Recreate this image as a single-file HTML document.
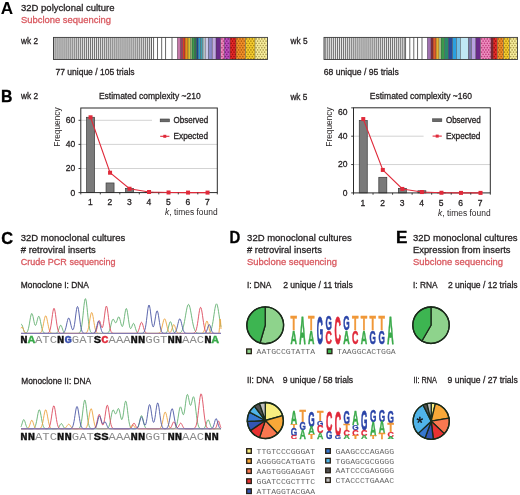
<!DOCTYPE html>
<html><head><meta charset="utf-8"><style>
html,body{margin:0;padding:0;background:#fff;}
body{width:520px;height:495px;overflow:hidden;font-family:"Liberation Sans",sans-serif;}
svg{display:block;will-change:transform;}
</style></head><body>
<svg width="520" height="495" viewBox="0 0 520 495">
<rect width="520" height="495" fill="#fff"/>
<text x="0.8" y="13.9" font-family="Liberation Sans" font-size="16.5" font-weight="700" fill="#000" textLength="12.4" lengthAdjust="spacingAndGlyphs">A</text>
<text x="21" y="11.3" font-family="Liberation Sans" font-size="9.9" font-weight="400" fill="#231f20" stroke="#231f20" stroke-width="0.3" text-anchor="start" textLength="93.5" lengthAdjust="spacingAndGlyphs" >32D polyclonal culture</text>
<text x="21" y="22.8" font-family="Liberation Sans" font-size="9.9" font-weight="400" fill="#d9585f" stroke="#d9585f" stroke-width="0.3" text-anchor="start" textLength="90" lengthAdjust="spacingAndGlyphs" >Subclone sequencing</text>
<text x="21" y="44" font-family="Liberation Sans" font-size="9.0" font-weight="400" fill="#231f20" stroke="#231f20" stroke-width="0.3" text-anchor="start" textLength="17" lengthAdjust="spacingAndGlyphs" >wk 2</text>
<text x="55.4" y="75.2" font-family="Liberation Sans" font-size="9.0" font-weight="400" fill="#231f20" stroke="#231f20" stroke-width="0.3" text-anchor="start" textLength="79.2" lengthAdjust="spacingAndGlyphs" >77 unique / 105 trials</text>
<text x="290.5" y="44" font-family="Liberation Sans" font-size="9.0" font-weight="400" fill="#231f20" stroke="#231f20" stroke-width="0.3" text-anchor="start" textLength="17" lengthAdjust="spacingAndGlyphs" >wk 5</text>
<text x="323.8" y="75.2" font-family="Liberation Sans" font-size="9.0" font-weight="400" fill="#231f20" stroke="#231f20" stroke-width="0.3" text-anchor="start" textLength="75" lengthAdjust="spacingAndGlyphs" >68 unique / 95 trials</text>
<rect x="53.5" y="37.4" width="98.0" height="22.1" fill="#e6e6e6"/>
<rect x="53.44" y="37.4" width="0.9" height="22.1" fill="#666"/>
<rect x="55.47" y="37.4" width="0.9" height="22.1" fill="#666"/>
<rect x="57.50" y="37.4" width="0.9" height="22.1" fill="#666"/>
<rect x="59.54" y="37.4" width="0.9" height="22.1" fill="#666"/>
<rect x="61.57" y="37.4" width="0.9" height="22.1" fill="#666"/>
<rect x="63.60" y="37.4" width="0.9" height="22.1" fill="#666"/>
<rect x="65.63" y="37.4" width="0.9" height="22.1" fill="#666"/>
<rect x="67.66" y="37.4" width="0.9" height="22.1" fill="#666"/>
<rect x="69.70" y="37.4" width="0.9" height="22.1" fill="#666"/>
<rect x="71.73" y="37.4" width="0.9" height="22.1" fill="#666"/>
<rect x="73.76" y="37.4" width="0.9" height="22.1" fill="#666"/>
<rect x="75.79" y="37.4" width="0.9" height="22.1" fill="#666"/>
<rect x="77.82" y="37.4" width="0.9" height="22.1" fill="#666"/>
<rect x="79.86" y="37.4" width="0.9" height="22.1" fill="#666"/>
<rect x="81.89" y="37.4" width="0.9" height="22.1" fill="#666"/>
<rect x="83.92" y="37.4" width="0.9" height="22.1" fill="#666"/>
<rect x="85.95" y="37.4" width="0.9" height="22.1" fill="#666"/>
<rect x="87.98" y="37.4" width="0.9" height="22.1" fill="#666"/>
<rect x="90.02" y="37.4" width="0.9" height="22.1" fill="#666"/>
<rect x="92.05" y="37.4" width="0.9" height="22.1" fill="#666"/>
<rect x="94.08" y="37.4" width="0.9" height="22.1" fill="#666"/>
<rect x="96.11" y="37.4" width="0.9" height="22.1" fill="#666"/>
<rect x="98.14" y="37.4" width="0.9" height="22.1" fill="#666"/>
<rect x="100.18" y="37.4" width="0.9" height="22.1" fill="#666"/>
<rect x="102.21" y="37.4" width="0.9" height="22.1" fill="#666"/>
<rect x="104.24" y="37.4" width="0.9" height="22.1" fill="#666"/>
<rect x="106.27" y="37.4" width="0.9" height="22.1" fill="#666"/>
<rect x="108.30" y="37.4" width="0.9" height="22.1" fill="#666"/>
<rect x="110.34" y="37.4" width="0.9" height="22.1" fill="#666"/>
<rect x="112.37" y="37.4" width="0.9" height="22.1" fill="#666"/>
<rect x="114.40" y="37.4" width="0.9" height="22.1" fill="#666"/>
<rect x="116.43" y="37.4" width="0.9" height="22.1" fill="#666"/>
<rect x="118.46" y="37.4" width="0.9" height="22.1" fill="#666"/>
<rect x="120.50" y="37.4" width="0.9" height="22.1" fill="#666"/>
<rect x="122.53" y="37.4" width="0.9" height="22.1" fill="#666"/>
<rect x="124.56" y="37.4" width="0.9" height="22.1" fill="#666"/>
<rect x="126.59" y="37.4" width="0.9" height="22.1" fill="#666"/>
<rect x="128.62" y="37.4" width="0.9" height="22.1" fill="#666"/>
<rect x="130.66" y="37.4" width="0.9" height="22.1" fill="#666"/>
<rect x="132.69" y="37.4" width="0.9" height="22.1" fill="#666"/>
<rect x="134.72" y="37.4" width="0.9" height="22.1" fill="#666"/>
<rect x="136.75" y="37.4" width="0.9" height="22.1" fill="#666"/>
<rect x="138.78" y="37.4" width="0.9" height="22.1" fill="#666"/>
<rect x="140.82" y="37.4" width="0.9" height="22.1" fill="#666"/>
<rect x="142.85" y="37.4" width="0.9" height="22.1" fill="#666"/>
<rect x="144.88" y="37.4" width="0.9" height="22.1" fill="#666"/>
<rect x="146.91" y="37.4" width="0.9" height="22.1" fill="#666"/>
<rect x="148.94" y="37.4" width="0.9" height="22.1" fill="#666"/>
<rect x="150.98" y="37.4" width="0.9" height="22.1" fill="#666"/>
<rect x="151.5" y="37.4" width="26.0" height="22.1" fill="#fff"/>
<rect x="151.05" y="37.4" width="0.9" height="22.1" fill="#5a5a5a"/>
<rect x="153.15" y="37.4" width="0.9" height="22.1" fill="#5a5a5a"/>
<rect x="157.05" y="37.4" width="0.9" height="22.1" fill="#5a5a5a"/>
<rect x="161.25" y="37.4" width="0.9" height="22.1" fill="#5a5a5a"/>
<rect x="165.15" y="37.4" width="0.9" height="22.1" fill="#5a5a5a"/>
<rect x="171.55" y="37.4" width="0.9" height="22.1" fill="#5a5a5a"/>
<rect x="177.05" y="37.4" width="0.9" height="22.1" fill="#5a5a5a"/>
<rect x="177.5" y="37.4" width="3.00" height="22.1" fill="#c678a8"/>
<rect x="180.5" y="37.4" width="2.00" height="22.1" fill="#9a3a6a"/>
<rect x="182.5" y="37.4" width="2.50" height="22.1" fill="#d83a2a"/>
<rect x="185" y="37.4" width="3.00" height="22.1" fill="#e8901a"/>
<rect x="188" y="37.4" width="2.50" height="22.1" fill="#d8c030"/>
<rect x="190.5" y="37.4" width="1.50" height="22.1" fill="#a8d080"/>
<rect x="192" y="37.4" width="2.30" height="22.1" fill="#3a9a4a"/>
<rect x="194.3" y="37.4" width="2.00" height="22.1" fill="#2a7a4a"/>
<rect x="196.3" y="37.4" width="1.90" height="22.1" fill="#1a4a8a"/>
<rect x="198.2" y="37.4" width="2.30" height="22.1" fill="#2a9ad0"/>
<rect x="200.5" y="37.4" width="2.00" height="22.1" fill="#3aa0b0"/>
<rect x="202.5" y="37.4" width="1.50" height="22.1" fill="#a0d8e8"/>
<rect x="204" y="37.4" width="1.20" height="22.1" fill="#f4f8fa"/>
<rect x="205.2" y="37.4" width="3.10" height="22.1" fill="#c8c8e8"/>
<rect x="208.3" y="37.4" width="3.90" height="22.1" fill="#8888c8"/>
<rect x="212.2" y="37.4" width="3.80" height="22.1" fill="#c0a8e0"/>
<rect x="216" y="37.4" width="4.70" height="22.1" fill="#6a2a8a"/>
<rect x="220.7" y="37.4" width="3.50" height="22.1" fill="#f090c0"/>
<circle cx="221.90" cy="38.90" r="0.85" fill="#c04080"/>
<circle cx="223.30" cy="41.10" r="0.85" fill="#c04080"/>
<circle cx="221.90" cy="43.30" r="0.85" fill="#c04080"/>
<circle cx="223.30" cy="45.50" r="0.85" fill="#c04080"/>
<circle cx="221.90" cy="47.70" r="0.85" fill="#c04080"/>
<circle cx="223.30" cy="49.90" r="0.85" fill="#c04080"/>
<circle cx="221.90" cy="52.10" r="0.85" fill="#c04080"/>
<circle cx="223.30" cy="54.30" r="0.85" fill="#c04080"/>
<circle cx="221.90" cy="56.50" r="0.85" fill="#c04080"/>
<circle cx="223.30" cy="58.70" r="0.85" fill="#c04080"/>
<rect x="224.2" y="37.4" width="5.80" height="22.1" fill="#c050c0"/>
<circle cx="225.40" cy="38.90" r="0.85" fill="#802080"/>
<circle cx="228.20" cy="38.90" r="0.85" fill="#802080"/>
<circle cx="226.80" cy="41.10" r="0.85" fill="#802080"/>
<circle cx="225.40" cy="43.30" r="0.85" fill="#802080"/>
<circle cx="228.20" cy="43.30" r="0.85" fill="#802080"/>
<circle cx="226.80" cy="45.50" r="0.85" fill="#802080"/>
<circle cx="225.40" cy="47.70" r="0.85" fill="#802080"/>
<circle cx="228.20" cy="47.70" r="0.85" fill="#802080"/>
<circle cx="226.80" cy="49.90" r="0.85" fill="#802080"/>
<circle cx="225.40" cy="52.10" r="0.85" fill="#802080"/>
<circle cx="228.20" cy="52.10" r="0.85" fill="#802080"/>
<circle cx="226.80" cy="54.30" r="0.85" fill="#802080"/>
<circle cx="225.40" cy="56.50" r="0.85" fill="#802080"/>
<circle cx="228.20" cy="56.50" r="0.85" fill="#802080"/>
<circle cx="226.80" cy="58.70" r="0.85" fill="#802080"/>
<rect x="230" y="37.4" width="6.00" height="22.1" fill="#e82a2a"/>
<circle cx="231.20" cy="38.90" r="0.85" fill="#a01010"/>
<circle cx="234.00" cy="38.90" r="0.85" fill="#a01010"/>
<circle cx="232.60" cy="41.10" r="0.85" fill="#a01010"/>
<circle cx="235.40" cy="41.10" r="0.85" fill="#a01010"/>
<circle cx="231.20" cy="43.30" r="0.85" fill="#a01010"/>
<circle cx="234.00" cy="43.30" r="0.85" fill="#a01010"/>
<circle cx="232.60" cy="45.50" r="0.85" fill="#a01010"/>
<circle cx="235.40" cy="45.50" r="0.85" fill="#a01010"/>
<circle cx="231.20" cy="47.70" r="0.85" fill="#a01010"/>
<circle cx="234.00" cy="47.70" r="0.85" fill="#a01010"/>
<circle cx="232.60" cy="49.90" r="0.85" fill="#a01010"/>
<circle cx="235.40" cy="49.90" r="0.85" fill="#a01010"/>
<circle cx="231.20" cy="52.10" r="0.85" fill="#a01010"/>
<circle cx="234.00" cy="52.10" r="0.85" fill="#a01010"/>
<circle cx="232.60" cy="54.30" r="0.85" fill="#a01010"/>
<circle cx="235.40" cy="54.30" r="0.85" fill="#a01010"/>
<circle cx="231.20" cy="56.50" r="0.85" fill="#a01010"/>
<circle cx="234.00" cy="56.50" r="0.85" fill="#a01010"/>
<circle cx="232.60" cy="58.70" r="0.85" fill="#a01010"/>
<circle cx="235.40" cy="58.70" r="0.85" fill="#a01010"/>
<rect x="236" y="37.4" width="9.50" height="22.1" fill="#f4902a"/>
<circle cx="237.20" cy="38.90" r="0.85" fill="#b06010"/>
<circle cx="240.00" cy="38.90" r="0.85" fill="#b06010"/>
<circle cx="242.80" cy="38.90" r="0.85" fill="#b06010"/>
<circle cx="238.60" cy="41.10" r="0.85" fill="#b06010"/>
<circle cx="241.40" cy="41.10" r="0.85" fill="#b06010"/>
<circle cx="244.20" cy="41.10" r="0.85" fill="#b06010"/>
<circle cx="237.20" cy="43.30" r="0.85" fill="#b06010"/>
<circle cx="240.00" cy="43.30" r="0.85" fill="#b06010"/>
<circle cx="242.80" cy="43.30" r="0.85" fill="#b06010"/>
<circle cx="238.60" cy="45.50" r="0.85" fill="#b06010"/>
<circle cx="241.40" cy="45.50" r="0.85" fill="#b06010"/>
<circle cx="244.20" cy="45.50" r="0.85" fill="#b06010"/>
<circle cx="237.20" cy="47.70" r="0.85" fill="#b06010"/>
<circle cx="240.00" cy="47.70" r="0.85" fill="#b06010"/>
<circle cx="242.80" cy="47.70" r="0.85" fill="#b06010"/>
<circle cx="238.60" cy="49.90" r="0.85" fill="#b06010"/>
<circle cx="241.40" cy="49.90" r="0.85" fill="#b06010"/>
<circle cx="244.20" cy="49.90" r="0.85" fill="#b06010"/>
<circle cx="237.20" cy="52.10" r="0.85" fill="#b06010"/>
<circle cx="240.00" cy="52.10" r="0.85" fill="#b06010"/>
<circle cx="242.80" cy="52.10" r="0.85" fill="#b06010"/>
<circle cx="238.60" cy="54.30" r="0.85" fill="#b06010"/>
<circle cx="241.40" cy="54.30" r="0.85" fill="#b06010"/>
<circle cx="244.20" cy="54.30" r="0.85" fill="#b06010"/>
<circle cx="237.20" cy="56.50" r="0.85" fill="#b06010"/>
<circle cx="240.00" cy="56.50" r="0.85" fill="#b06010"/>
<circle cx="242.80" cy="56.50" r="0.85" fill="#b06010"/>
<circle cx="238.60" cy="58.70" r="0.85" fill="#b06010"/>
<circle cx="241.40" cy="58.70" r="0.85" fill="#b06010"/>
<circle cx="244.20" cy="58.70" r="0.85" fill="#b06010"/>
<rect x="245.5" y="37.4" width="9.50" height="22.1" fill="#f8d030"/>
<circle cx="246.70" cy="38.90" r="0.85" fill="#b08810"/>
<circle cx="249.50" cy="38.90" r="0.85" fill="#b08810"/>
<circle cx="252.30" cy="38.90" r="0.85" fill="#b08810"/>
<circle cx="248.10" cy="41.10" r="0.85" fill="#b08810"/>
<circle cx="250.90" cy="41.10" r="0.85" fill="#b08810"/>
<circle cx="253.70" cy="41.10" r="0.85" fill="#b08810"/>
<circle cx="246.70" cy="43.30" r="0.85" fill="#b08810"/>
<circle cx="249.50" cy="43.30" r="0.85" fill="#b08810"/>
<circle cx="252.30" cy="43.30" r="0.85" fill="#b08810"/>
<circle cx="248.10" cy="45.50" r="0.85" fill="#b08810"/>
<circle cx="250.90" cy="45.50" r="0.85" fill="#b08810"/>
<circle cx="253.70" cy="45.50" r="0.85" fill="#b08810"/>
<circle cx="246.70" cy="47.70" r="0.85" fill="#b08810"/>
<circle cx="249.50" cy="47.70" r="0.85" fill="#b08810"/>
<circle cx="252.30" cy="47.70" r="0.85" fill="#b08810"/>
<circle cx="248.10" cy="49.90" r="0.85" fill="#b08810"/>
<circle cx="250.90" cy="49.90" r="0.85" fill="#b08810"/>
<circle cx="253.70" cy="49.90" r="0.85" fill="#b08810"/>
<circle cx="246.70" cy="52.10" r="0.85" fill="#b08810"/>
<circle cx="249.50" cy="52.10" r="0.85" fill="#b08810"/>
<circle cx="252.30" cy="52.10" r="0.85" fill="#b08810"/>
<circle cx="248.10" cy="54.30" r="0.85" fill="#b08810"/>
<circle cx="250.90" cy="54.30" r="0.85" fill="#b08810"/>
<circle cx="253.70" cy="54.30" r="0.85" fill="#b08810"/>
<circle cx="246.70" cy="56.50" r="0.85" fill="#b08810"/>
<circle cx="249.50" cy="56.50" r="0.85" fill="#b08810"/>
<circle cx="252.30" cy="56.50" r="0.85" fill="#b08810"/>
<circle cx="248.10" cy="58.70" r="0.85" fill="#b08810"/>
<circle cx="250.90" cy="58.70" r="0.85" fill="#b08810"/>
<circle cx="253.70" cy="58.70" r="0.85" fill="#b08810"/>
<rect x="255" y="37.4" width="12.50" height="22.1" fill="#faf0a0"/>
<circle cx="256.20" cy="38.90" r="0.85" fill="#b0a050"/>
<circle cx="259.00" cy="38.90" r="0.85" fill="#b0a050"/>
<circle cx="261.80" cy="38.90" r="0.85" fill="#b0a050"/>
<circle cx="264.60" cy="38.90" r="0.85" fill="#b0a050"/>
<circle cx="257.60" cy="41.10" r="0.85" fill="#b0a050"/>
<circle cx="260.40" cy="41.10" r="0.85" fill="#b0a050"/>
<circle cx="263.20" cy="41.10" r="0.85" fill="#b0a050"/>
<circle cx="266.00" cy="41.10" r="0.85" fill="#b0a050"/>
<circle cx="256.20" cy="43.30" r="0.85" fill="#b0a050"/>
<circle cx="259.00" cy="43.30" r="0.85" fill="#b0a050"/>
<circle cx="261.80" cy="43.30" r="0.85" fill="#b0a050"/>
<circle cx="264.60" cy="43.30" r="0.85" fill="#b0a050"/>
<circle cx="257.60" cy="45.50" r="0.85" fill="#b0a050"/>
<circle cx="260.40" cy="45.50" r="0.85" fill="#b0a050"/>
<circle cx="263.20" cy="45.50" r="0.85" fill="#b0a050"/>
<circle cx="266.00" cy="45.50" r="0.85" fill="#b0a050"/>
<circle cx="256.20" cy="47.70" r="0.85" fill="#b0a050"/>
<circle cx="259.00" cy="47.70" r="0.85" fill="#b0a050"/>
<circle cx="261.80" cy="47.70" r="0.85" fill="#b0a050"/>
<circle cx="264.60" cy="47.70" r="0.85" fill="#b0a050"/>
<circle cx="257.60" cy="49.90" r="0.85" fill="#b0a050"/>
<circle cx="260.40" cy="49.90" r="0.85" fill="#b0a050"/>
<circle cx="263.20" cy="49.90" r="0.85" fill="#b0a050"/>
<circle cx="266.00" cy="49.90" r="0.85" fill="#b0a050"/>
<circle cx="256.20" cy="52.10" r="0.85" fill="#b0a050"/>
<circle cx="259.00" cy="52.10" r="0.85" fill="#b0a050"/>
<circle cx="261.80" cy="52.10" r="0.85" fill="#b0a050"/>
<circle cx="264.60" cy="52.10" r="0.85" fill="#b0a050"/>
<circle cx="257.60" cy="54.30" r="0.85" fill="#b0a050"/>
<circle cx="260.40" cy="54.30" r="0.85" fill="#b0a050"/>
<circle cx="263.20" cy="54.30" r="0.85" fill="#b0a050"/>
<circle cx="266.00" cy="54.30" r="0.85" fill="#b0a050"/>
<circle cx="256.20" cy="56.50" r="0.85" fill="#b0a050"/>
<circle cx="259.00" cy="56.50" r="0.85" fill="#b0a050"/>
<circle cx="261.80" cy="56.50" r="0.85" fill="#b0a050"/>
<circle cx="264.60" cy="56.50" r="0.85" fill="#b0a050"/>
<circle cx="257.60" cy="58.70" r="0.85" fill="#b0a050"/>
<circle cx="260.40" cy="58.70" r="0.85" fill="#b0a050"/>
<circle cx="263.20" cy="58.70" r="0.85" fill="#b0a050"/>
<circle cx="266.00" cy="58.70" r="0.85" fill="#b0a050"/>
<rect x="180.20" y="37.4" width="0.6" height="22.1" fill="#3a3a3a" opacity="0.8"/>
<rect x="182.20" y="37.4" width="0.6" height="22.1" fill="#3a3a3a" opacity="0.8"/>
<rect x="184.70" y="37.4" width="0.6" height="22.1" fill="#3a3a3a" opacity="0.8"/>
<rect x="187.70" y="37.4" width="0.6" height="22.1" fill="#3a3a3a" opacity="0.8"/>
<rect x="190.20" y="37.4" width="0.6" height="22.1" fill="#3a3a3a" opacity="0.8"/>
<rect x="191.70" y="37.4" width="0.6" height="22.1" fill="#3a3a3a" opacity="0.8"/>
<rect x="194.00" y="37.4" width="0.6" height="22.1" fill="#3a3a3a" opacity="0.8"/>
<rect x="196.00" y="37.4" width="0.6" height="22.1" fill="#3a3a3a" opacity="0.8"/>
<rect x="197.90" y="37.4" width="0.6" height="22.1" fill="#3a3a3a" opacity="0.8"/>
<rect x="200.20" y="37.4" width="0.6" height="22.1" fill="#3a3a3a" opacity="0.8"/>
<rect x="202.20" y="37.4" width="0.6" height="22.1" fill="#3a3a3a" opacity="0.8"/>
<rect x="203.70" y="37.4" width="0.6" height="22.1" fill="#3a3a3a" opacity="0.8"/>
<rect x="204.90" y="37.4" width="0.6" height="22.1" fill="#3a3a3a" opacity="0.8"/>
<rect x="208.00" y="37.4" width="0.6" height="22.1" fill="#3a3a3a" opacity="0.8"/>
<rect x="211.90" y="37.4" width="0.6" height="22.1" fill="#3a3a3a" opacity="0.8"/>
<rect x="215.70" y="37.4" width="0.6" height="22.1" fill="#3a3a3a" opacity="0.8"/>
<rect x="220.40" y="37.4" width="0.6" height="22.1" fill="#3a3a3a" opacity="0.8"/>
<rect x="223.90" y="37.4" width="0.6" height="22.1" fill="#3a3a3a" opacity="0.8"/>
<rect x="229.70" y="37.4" width="0.6" height="22.1" fill="#3a3a3a" opacity="0.8"/>
<rect x="235.70" y="37.4" width="0.6" height="22.1" fill="#3a3a3a" opacity="0.8"/>
<rect x="245.20" y="37.4" width="0.6" height="22.1" fill="#3a3a3a" opacity="0.8"/>
<rect x="254.70" y="37.4" width="0.6" height="22.1" fill="#3a3a3a" opacity="0.8"/>
<rect x="53.5" y="37.4" width="214.0" height="22.1" fill="none" stroke="#3a3a3a" stroke-width="0.9"/>
<rect x="324" y="37.4" width="81.60000000000002" height="22.1" fill="#e6e6e6"/>
<rect x="324.76" y="37.4" width="0.9" height="22.1" fill="#666"/>
<rect x="326.80" y="37.4" width="0.9" height="22.1" fill="#666"/>
<rect x="328.84" y="37.4" width="0.9" height="22.1" fill="#666"/>
<rect x="330.88" y="37.4" width="0.9" height="22.1" fill="#666"/>
<rect x="332.92" y="37.4" width="0.9" height="22.1" fill="#666"/>
<rect x="334.96" y="37.4" width="0.9" height="22.1" fill="#666"/>
<rect x="337.01" y="37.4" width="0.9" height="22.1" fill="#666"/>
<rect x="339.05" y="37.4" width="0.9" height="22.1" fill="#666"/>
<rect x="341.09" y="37.4" width="0.9" height="22.1" fill="#666"/>
<rect x="343.13" y="37.4" width="0.9" height="22.1" fill="#666"/>
<rect x="345.17" y="37.4" width="0.9" height="22.1" fill="#666"/>
<rect x="347.21" y="37.4" width="0.9" height="22.1" fill="#666"/>
<rect x="349.25" y="37.4" width="0.9" height="22.1" fill="#666"/>
<rect x="351.29" y="37.4" width="0.9" height="22.1" fill="#666"/>
<rect x="353.33" y="37.4" width="0.9" height="22.1" fill="#666"/>
<rect x="355.37" y="37.4" width="0.9" height="22.1" fill="#666"/>
<rect x="357.42" y="37.4" width="0.9" height="22.1" fill="#666"/>
<rect x="359.46" y="37.4" width="0.9" height="22.1" fill="#666"/>
<rect x="361.50" y="37.4" width="0.9" height="22.1" fill="#666"/>
<rect x="363.54" y="37.4" width="0.9" height="22.1" fill="#666"/>
<rect x="365.58" y="37.4" width="0.9" height="22.1" fill="#666"/>
<rect x="367.62" y="37.4" width="0.9" height="22.1" fill="#666"/>
<rect x="369.66" y="37.4" width="0.9" height="22.1" fill="#666"/>
<rect x="371.70" y="37.4" width="0.9" height="22.1" fill="#666"/>
<rect x="373.74" y="37.4" width="0.9" height="22.1" fill="#666"/>
<rect x="375.78" y="37.4" width="0.9" height="22.1" fill="#666"/>
<rect x="377.83" y="37.4" width="0.9" height="22.1" fill="#666"/>
<rect x="379.87" y="37.4" width="0.9" height="22.1" fill="#666"/>
<rect x="381.91" y="37.4" width="0.9" height="22.1" fill="#666"/>
<rect x="383.95" y="37.4" width="0.9" height="22.1" fill="#666"/>
<rect x="385.99" y="37.4" width="0.9" height="22.1" fill="#666"/>
<rect x="388.03" y="37.4" width="0.9" height="22.1" fill="#666"/>
<rect x="390.07" y="37.4" width="0.9" height="22.1" fill="#666"/>
<rect x="392.11" y="37.4" width="0.9" height="22.1" fill="#666"/>
<rect x="394.15" y="37.4" width="0.9" height="22.1" fill="#666"/>
<rect x="396.19" y="37.4" width="0.9" height="22.1" fill="#666"/>
<rect x="398.24" y="37.4" width="0.9" height="22.1" fill="#666"/>
<rect x="400.28" y="37.4" width="0.9" height="22.1" fill="#666"/>
<rect x="402.32" y="37.4" width="0.9" height="22.1" fill="#666"/>
<rect x="404.36" y="37.4" width="0.9" height="22.1" fill="#666"/>
<rect x="405.6" y="37.4" width="21.899999999999977" height="22.1" fill="#fff"/>
<rect x="405.15" y="37.4" width="0.9" height="22.1" fill="#5a5a5a"/>
<rect x="409.35" y="37.4" width="0.9" height="22.1" fill="#5a5a5a"/>
<rect x="413.35" y="37.4" width="0.9" height="22.1" fill="#5a5a5a"/>
<rect x="417.15" y="37.4" width="0.9" height="22.1" fill="#5a5a5a"/>
<rect x="421.55" y="37.4" width="0.9" height="22.1" fill="#5a5a5a"/>
<rect x="427.05" y="37.4" width="0.9" height="22.1" fill="#5a5a5a"/>
<rect x="427.5" y="37.4" width="3.50" height="22.1" fill="#a070b0"/>
<rect x="431" y="37.4" width="2.00" height="22.1" fill="#902a3a"/>
<rect x="433" y="37.4" width="3.00" height="22.1" fill="#e05a2a"/>
<rect x="436" y="37.4" width="3.00" height="22.1" fill="#e8b030"/>
<rect x="439" y="37.4" width="2.00" height="22.1" fill="#c8e0a0"/>
<rect x="441" y="37.4" width="3.50" height="22.1" fill="#3a9a4a"/>
<rect x="444.5" y="37.4" width="3.80" height="22.1" fill="#2a8a6a"/>
<rect x="448.3" y="37.4" width="4.20" height="22.1" fill="#2a4a9a"/>
<rect x="452.5" y="37.4" width="4.10" height="22.1" fill="#2aa0e0"/>
<rect x="456.6" y="37.4" width="3.90" height="22.1" fill="#70c0e8"/>
<rect x="460.5" y="37.4" width="7.80" height="22.1" fill="#c0e8f4"/>
<rect x="468.3" y="37.4" width="3.20" height="22.1" fill="#7878a8"/>
<rect x="471.5" y="37.4" width="4.30" height="22.1" fill="#b8a0e0"/>
<rect x="475.8" y="37.4" width="4.70" height="22.1" fill="#6a2a8a"/>
<rect x="480.5" y="37.4" width="10.50" height="22.1" fill="#f090c0"/>
<circle cx="481.70" cy="38.90" r="0.85" fill="#c04080"/>
<circle cx="484.50" cy="38.90" r="0.85" fill="#c04080"/>
<circle cx="487.30" cy="38.90" r="0.85" fill="#c04080"/>
<circle cx="490.10" cy="38.90" r="0.85" fill="#c04080"/>
<circle cx="483.10" cy="41.10" r="0.85" fill="#c04080"/>
<circle cx="485.90" cy="41.10" r="0.85" fill="#c04080"/>
<circle cx="488.70" cy="41.10" r="0.85" fill="#c04080"/>
<circle cx="481.70" cy="43.30" r="0.85" fill="#c04080"/>
<circle cx="484.50" cy="43.30" r="0.85" fill="#c04080"/>
<circle cx="487.30" cy="43.30" r="0.85" fill="#c04080"/>
<circle cx="490.10" cy="43.30" r="0.85" fill="#c04080"/>
<circle cx="483.10" cy="45.50" r="0.85" fill="#c04080"/>
<circle cx="485.90" cy="45.50" r="0.85" fill="#c04080"/>
<circle cx="488.70" cy="45.50" r="0.85" fill="#c04080"/>
<circle cx="481.70" cy="47.70" r="0.85" fill="#c04080"/>
<circle cx="484.50" cy="47.70" r="0.85" fill="#c04080"/>
<circle cx="487.30" cy="47.70" r="0.85" fill="#c04080"/>
<circle cx="490.10" cy="47.70" r="0.85" fill="#c04080"/>
<circle cx="483.10" cy="49.90" r="0.85" fill="#c04080"/>
<circle cx="485.90" cy="49.90" r="0.85" fill="#c04080"/>
<circle cx="488.70" cy="49.90" r="0.85" fill="#c04080"/>
<circle cx="481.70" cy="52.10" r="0.85" fill="#c04080"/>
<circle cx="484.50" cy="52.10" r="0.85" fill="#c04080"/>
<circle cx="487.30" cy="52.10" r="0.85" fill="#c04080"/>
<circle cx="490.10" cy="52.10" r="0.85" fill="#c04080"/>
<circle cx="483.10" cy="54.30" r="0.85" fill="#c04080"/>
<circle cx="485.90" cy="54.30" r="0.85" fill="#c04080"/>
<circle cx="488.70" cy="54.30" r="0.85" fill="#c04080"/>
<circle cx="481.70" cy="56.50" r="0.85" fill="#c04080"/>
<circle cx="484.50" cy="56.50" r="0.85" fill="#c04080"/>
<circle cx="487.30" cy="56.50" r="0.85" fill="#c04080"/>
<circle cx="490.10" cy="56.50" r="0.85" fill="#c04080"/>
<circle cx="483.10" cy="58.70" r="0.85" fill="#c04080"/>
<circle cx="485.90" cy="58.70" r="0.85" fill="#c04080"/>
<circle cx="488.70" cy="58.70" r="0.85" fill="#c04080"/>
<rect x="491" y="37.4" width="2.00" height="22.1" fill="#8a2030"/>
<rect x="493" y="37.4" width="4.20" height="22.1" fill="#e82a2a"/>
<circle cx="494.20" cy="38.90" r="0.85" fill="#a01010"/>
<circle cx="495.60" cy="41.10" r="0.85" fill="#a01010"/>
<circle cx="494.20" cy="43.30" r="0.85" fill="#a01010"/>
<circle cx="495.60" cy="45.50" r="0.85" fill="#a01010"/>
<circle cx="494.20" cy="47.70" r="0.85" fill="#a01010"/>
<circle cx="495.60" cy="49.90" r="0.85" fill="#a01010"/>
<circle cx="494.20" cy="52.10" r="0.85" fill="#a01010"/>
<circle cx="495.60" cy="54.30" r="0.85" fill="#a01010"/>
<circle cx="494.20" cy="56.50" r="0.85" fill="#a01010"/>
<circle cx="495.60" cy="58.70" r="0.85" fill="#a01010"/>
<rect x="497.2" y="37.4" width="6.20" height="22.1" fill="#f4902a"/>
<circle cx="498.40" cy="38.90" r="0.85" fill="#b06010"/>
<circle cx="501.20" cy="38.90" r="0.85" fill="#b06010"/>
<circle cx="499.80" cy="41.10" r="0.85" fill="#b06010"/>
<circle cx="502.60" cy="41.10" r="0.85" fill="#b06010"/>
<circle cx="498.40" cy="43.30" r="0.85" fill="#b06010"/>
<circle cx="501.20" cy="43.30" r="0.85" fill="#b06010"/>
<circle cx="499.80" cy="45.50" r="0.85" fill="#b06010"/>
<circle cx="502.60" cy="45.50" r="0.85" fill="#b06010"/>
<circle cx="498.40" cy="47.70" r="0.85" fill="#b06010"/>
<circle cx="501.20" cy="47.70" r="0.85" fill="#b06010"/>
<circle cx="499.80" cy="49.90" r="0.85" fill="#b06010"/>
<circle cx="502.60" cy="49.90" r="0.85" fill="#b06010"/>
<circle cx="498.40" cy="52.10" r="0.85" fill="#b06010"/>
<circle cx="501.20" cy="52.10" r="0.85" fill="#b06010"/>
<circle cx="499.80" cy="54.30" r="0.85" fill="#b06010"/>
<circle cx="502.60" cy="54.30" r="0.85" fill="#b06010"/>
<circle cx="498.40" cy="56.50" r="0.85" fill="#b06010"/>
<circle cx="501.20" cy="56.50" r="0.85" fill="#b06010"/>
<circle cx="499.80" cy="58.70" r="0.85" fill="#b06010"/>
<circle cx="502.60" cy="58.70" r="0.85" fill="#b06010"/>
<rect x="503.4" y="37.4" width="6.10" height="22.1" fill="#f8d030"/>
<circle cx="504.60" cy="38.90" r="0.85" fill="#b08810"/>
<circle cx="507.40" cy="38.90" r="0.85" fill="#b08810"/>
<circle cx="506.00" cy="41.10" r="0.85" fill="#b08810"/>
<circle cx="508.80" cy="41.10" r="0.85" fill="#b08810"/>
<circle cx="504.60" cy="43.30" r="0.85" fill="#b08810"/>
<circle cx="507.40" cy="43.30" r="0.85" fill="#b08810"/>
<circle cx="506.00" cy="45.50" r="0.85" fill="#b08810"/>
<circle cx="508.80" cy="45.50" r="0.85" fill="#b08810"/>
<circle cx="504.60" cy="47.70" r="0.85" fill="#b08810"/>
<circle cx="507.40" cy="47.70" r="0.85" fill="#b08810"/>
<circle cx="506.00" cy="49.90" r="0.85" fill="#b08810"/>
<circle cx="508.80" cy="49.90" r="0.85" fill="#b08810"/>
<circle cx="504.60" cy="52.10" r="0.85" fill="#b08810"/>
<circle cx="507.40" cy="52.10" r="0.85" fill="#b08810"/>
<circle cx="506.00" cy="54.30" r="0.85" fill="#b08810"/>
<circle cx="508.80" cy="54.30" r="0.85" fill="#b08810"/>
<circle cx="504.60" cy="56.50" r="0.85" fill="#b08810"/>
<circle cx="507.40" cy="56.50" r="0.85" fill="#b08810"/>
<circle cx="506.00" cy="58.70" r="0.85" fill="#b08810"/>
<circle cx="508.80" cy="58.70" r="0.85" fill="#b08810"/>
<rect x="509.5" y="37.4" width="8.00" height="22.1" fill="#faf0a0"/>
<circle cx="510.70" cy="38.90" r="0.85" fill="#b0a050"/>
<circle cx="513.50" cy="38.90" r="0.85" fill="#b0a050"/>
<circle cx="516.30" cy="38.90" r="0.85" fill="#b0a050"/>
<circle cx="512.10" cy="41.10" r="0.85" fill="#b0a050"/>
<circle cx="514.90" cy="41.10" r="0.85" fill="#b0a050"/>
<circle cx="510.70" cy="43.30" r="0.85" fill="#b0a050"/>
<circle cx="513.50" cy="43.30" r="0.85" fill="#b0a050"/>
<circle cx="516.30" cy="43.30" r="0.85" fill="#b0a050"/>
<circle cx="512.10" cy="45.50" r="0.85" fill="#b0a050"/>
<circle cx="514.90" cy="45.50" r="0.85" fill="#b0a050"/>
<circle cx="510.70" cy="47.70" r="0.85" fill="#b0a050"/>
<circle cx="513.50" cy="47.70" r="0.85" fill="#b0a050"/>
<circle cx="516.30" cy="47.70" r="0.85" fill="#b0a050"/>
<circle cx="512.10" cy="49.90" r="0.85" fill="#b0a050"/>
<circle cx="514.90" cy="49.90" r="0.85" fill="#b0a050"/>
<circle cx="510.70" cy="52.10" r="0.85" fill="#b0a050"/>
<circle cx="513.50" cy="52.10" r="0.85" fill="#b0a050"/>
<circle cx="516.30" cy="52.10" r="0.85" fill="#b0a050"/>
<circle cx="512.10" cy="54.30" r="0.85" fill="#b0a050"/>
<circle cx="514.90" cy="54.30" r="0.85" fill="#b0a050"/>
<circle cx="510.70" cy="56.50" r="0.85" fill="#b0a050"/>
<circle cx="513.50" cy="56.50" r="0.85" fill="#b0a050"/>
<circle cx="516.30" cy="56.50" r="0.85" fill="#b0a050"/>
<circle cx="512.10" cy="58.70" r="0.85" fill="#b0a050"/>
<circle cx="514.90" cy="58.70" r="0.85" fill="#b0a050"/>
<rect x="430.70" y="37.4" width="0.6" height="22.1" fill="#3a3a3a" opacity="0.8"/>
<rect x="432.70" y="37.4" width="0.6" height="22.1" fill="#3a3a3a" opacity="0.8"/>
<rect x="435.70" y="37.4" width="0.6" height="22.1" fill="#3a3a3a" opacity="0.8"/>
<rect x="438.70" y="37.4" width="0.6" height="22.1" fill="#3a3a3a" opacity="0.8"/>
<rect x="440.70" y="37.4" width="0.6" height="22.1" fill="#3a3a3a" opacity="0.8"/>
<rect x="444.20" y="37.4" width="0.6" height="22.1" fill="#3a3a3a" opacity="0.8"/>
<rect x="448.00" y="37.4" width="0.6" height="22.1" fill="#3a3a3a" opacity="0.8"/>
<rect x="452.20" y="37.4" width="0.6" height="22.1" fill="#3a3a3a" opacity="0.8"/>
<rect x="456.30" y="37.4" width="0.6" height="22.1" fill="#3a3a3a" opacity="0.8"/>
<rect x="460.20" y="37.4" width="0.6" height="22.1" fill="#3a3a3a" opacity="0.8"/>
<rect x="468.00" y="37.4" width="0.6" height="22.1" fill="#3a3a3a" opacity="0.8"/>
<rect x="471.20" y="37.4" width="0.6" height="22.1" fill="#3a3a3a" opacity="0.8"/>
<rect x="475.50" y="37.4" width="0.6" height="22.1" fill="#3a3a3a" opacity="0.8"/>
<rect x="480.20" y="37.4" width="0.6" height="22.1" fill="#3a3a3a" opacity="0.8"/>
<rect x="490.70" y="37.4" width="0.6" height="22.1" fill="#3a3a3a" opacity="0.8"/>
<rect x="492.70" y="37.4" width="0.6" height="22.1" fill="#3a3a3a" opacity="0.8"/>
<rect x="496.90" y="37.4" width="0.6" height="22.1" fill="#3a3a3a" opacity="0.8"/>
<rect x="503.10" y="37.4" width="0.6" height="22.1" fill="#3a3a3a" opacity="0.8"/>
<rect x="509.20" y="37.4" width="0.6" height="22.1" fill="#3a3a3a" opacity="0.8"/>
<rect x="324" y="37.4" width="193.5" height="22.1" fill="none" stroke="#3a3a3a" stroke-width="0.9"/>
<text x="1.0" y="102.4" font-family="Liberation Sans" font-size="16.5" font-weight="700" fill="#000" stroke="#000" stroke-width="0.35" text-anchor="start" textLength="11.4" lengthAdjust="spacingAndGlyphs" >B</text>
<text x="21" y="99.0" font-family="Liberation Sans" font-size="9.0" font-weight="400" fill="#231f20" stroke="#231f20" stroke-width="0.3" text-anchor="start" textLength="17.2" lengthAdjust="spacingAndGlyphs" >wk 2</text>
<text x="98.9" y="99.4" font-family="Liberation Sans" font-size="9.4" font-weight="400" fill="#231f20" stroke="#231f20" stroke-width="0.3" text-anchor="start" textLength="101.8" lengthAdjust="spacingAndGlyphs" >Estimated complexity ~210</text>
<text x="290.4" y="99.6" font-family="Liberation Sans" font-size="9.0" font-weight="400" fill="#231f20" stroke="#231f20" stroke-width="0.3" text-anchor="start" textLength="17" lengthAdjust="spacingAndGlyphs" >wk 5</text>
<text x="369.8" y="99.4" font-family="Liberation Sans" font-size="9.4" font-weight="400" fill="#231f20" stroke="#231f20" stroke-width="0.3" text-anchor="start" textLength="102.2" lengthAdjust="spacingAndGlyphs" >Estimated complexity ~160</text>
<line x1="80.8" y1="168.50" x2="217.3" y2="168.50" stroke="#c8c8c8" stroke-width="0.8"/>
<line x1="80.8" y1="144.40" x2="217.3" y2="144.40" stroke="#c8c8c8" stroke-width="0.8"/>
<line x1="80.8" y1="120.30" x2="152" y2="120.30" stroke="#c8c8c8" stroke-width="0.8"/>
<rect x="86.55" y="117.29" width="8" height="75.31" fill="#7a7a7a" stroke="#3a3a3a" stroke-width="0.7"/>
<rect x="106.05" y="182.96" width="8" height="9.64" fill="#7a7a7a" stroke="#3a3a3a" stroke-width="0.7"/>
<rect x="125.55" y="188.38" width="8" height="4.22" fill="#7a7a7a" stroke="#3a3a3a" stroke-width="0.7"/>
<rect x="145.05" y="192.24" width="8" height="0.36" fill="#7a7a7a" stroke="#3a3a3a" stroke-width="0.7"/>
<rect x="164.55" y="192.60" width="8" height="0.00" fill="#7a7a7a" stroke="#3a3a3a" stroke-width="0.7"/>
<rect x="184.05" y="192.60" width="8" height="0.00" fill="#7a7a7a" stroke="#3a3a3a" stroke-width="0.7"/>
<rect x="203.55" y="192.60" width="8" height="0.00" fill="#7a7a7a" stroke="#3a3a3a" stroke-width="0.7"/>
<rect x="80.8" y="108.0" width="136.50" height="84.60" fill="none" stroke="#2a2a2a" stroke-width="1"/>
<polyline points="90.55,117.29 110.05,172.72 129.55,188.74 149.05,192.00 168.55,192.48 188.05,192.60 207.55,192.60" fill="none" stroke="#e02a3a" stroke-width="1.1"/>
<rect x="88.55" y="115.29" width="4" height="4" fill="#e02a3a"/>
<rect x="108.05" y="170.72" width="4" height="4" fill="#e02a3a"/>
<rect x="127.55" y="186.74" width="4" height="4" fill="#e02a3a"/>
<rect x="147.05" y="190.00" width="4" height="4" fill="#e02a3a"/>
<rect x="166.55" y="190.48" width="4" height="4" fill="#e02a3a"/>
<rect x="186.05" y="190.60" width="4" height="4" fill="#e02a3a"/>
<rect x="205.55" y="190.60" width="4" height="4" fill="#e02a3a"/>
<line x1="78.5" y1="192.60" x2="80.8" y2="192.60" stroke="#2a2a2a" stroke-width="0.9"/>
<text x="75.2" y="195.5" font-family="Liberation Sans" font-size="8.5" font-weight="400" fill="#231f20" stroke="#231f20" stroke-width="0.3" text-anchor="end" >0</text>
<line x1="78.5" y1="168.50" x2="80.8" y2="168.50" stroke="#2a2a2a" stroke-width="0.9"/>
<text x="75.2" y="171.4" font-family="Liberation Sans" font-size="8.5" font-weight="400" fill="#231f20" stroke="#231f20" stroke-width="0.3" text-anchor="end" >20</text>
<line x1="78.5" y1="144.40" x2="80.8" y2="144.40" stroke="#2a2a2a" stroke-width="0.9"/>
<text x="75.2" y="147.29999999999998" font-family="Liberation Sans" font-size="8.5" font-weight="400" fill="#231f20" stroke="#231f20" stroke-width="0.3" text-anchor="end" >40</text>
<line x1="78.5" y1="120.30" x2="80.8" y2="120.30" stroke="#2a2a2a" stroke-width="0.9"/>
<text x="75.2" y="123.19999999999999" font-family="Liberation Sans" font-size="8.5" font-weight="400" fill="#231f20" stroke="#231f20" stroke-width="0.3" text-anchor="end" >60</text>
<line x1="80.80" y1="192.6" x2="80.80" y2="194.4" stroke="#2a2a2a" stroke-width="0.9"/>
<line x1="100.30" y1="192.6" x2="100.30" y2="194.4" stroke="#2a2a2a" stroke-width="0.9"/>
<line x1="119.80" y1="192.6" x2="119.80" y2="194.4" stroke="#2a2a2a" stroke-width="0.9"/>
<line x1="139.30" y1="192.6" x2="139.30" y2="194.4" stroke="#2a2a2a" stroke-width="0.9"/>
<line x1="158.80" y1="192.6" x2="158.80" y2="194.4" stroke="#2a2a2a" stroke-width="0.9"/>
<line x1="178.30" y1="192.6" x2="178.30" y2="194.4" stroke="#2a2a2a" stroke-width="0.9"/>
<line x1="197.80" y1="192.6" x2="197.80" y2="194.4" stroke="#2a2a2a" stroke-width="0.9"/>
<line x1="217.30" y1="192.6" x2="217.30" y2="194.4" stroke="#2a2a2a" stroke-width="0.9"/>
<text x="90.25" y="205.4" font-family="Liberation Sans" font-size="8.5" font-weight="400" fill="#231f20" stroke="#231f20" stroke-width="0.3" text-anchor="middle" >1</text>
<text x="109.75" y="205.4" font-family="Liberation Sans" font-size="8.5" font-weight="400" fill="#231f20" stroke="#231f20" stroke-width="0.3" text-anchor="middle" >2</text>
<text x="129.25" y="205.4" font-family="Liberation Sans" font-size="8.5" font-weight="400" fill="#231f20" stroke="#231f20" stroke-width="0.3" text-anchor="middle" >3</text>
<text x="148.75" y="205.4" font-family="Liberation Sans" font-size="8.5" font-weight="400" fill="#231f20" stroke="#231f20" stroke-width="0.3" text-anchor="middle" >4</text>
<text x="168.25" y="205.4" font-family="Liberation Sans" font-size="8.5" font-weight="400" fill="#231f20" stroke="#231f20" stroke-width="0.3" text-anchor="middle" >5</text>
<text x="187.75" y="205.4" font-family="Liberation Sans" font-size="8.5" font-weight="400" fill="#231f20" stroke="#231f20" stroke-width="0.3" text-anchor="middle" >6</text>
<text x="207.25" y="205.4" font-family="Liberation Sans" font-size="8.5" font-weight="400" fill="#231f20" stroke="#231f20" stroke-width="0.3" text-anchor="middle" >7</text>
<text x="217.60000000000002" y="214.79999999999998" font-family="Liberation Sans" font-size="8.5" fill="#231f20" text-anchor="end" textLength="52.5" lengthAdjust="spacingAndGlyphs"><tspan font-style="italic">k</tspan>, times found</text>
<rect x="160.2" y="119.0" width="9.2" height="2.8" fill="#6a6a6a" stroke="#3a3a3a" stroke-width="0.6"/>
<text x="173.5" y="122.7" font-family="Liberation Sans" font-size="8.5" font-weight="400" fill="#231f20" stroke="#231f20" stroke-width="0.3" text-anchor="start" textLength="34.8" lengthAdjust="spacingAndGlyphs" >Observed</text>
<line x1="160.2" y1="136.3" x2="169.39999999999998" y2="136.3" stroke="#e02a3a" stroke-width="1.1"/>
<rect x="163.29999999999998" y="134.8" width="3" height="3" fill="#e02a3a"/>
<text x="173.5" y="138.9" font-family="Liberation Sans" font-size="8.5" font-weight="400" fill="#231f20" stroke="#231f20" stroke-width="0.3" text-anchor="start" textLength="34.5" lengthAdjust="spacingAndGlyphs" >Expected</text>
<text transform="translate(60.0,127) rotate(-90)" x="0" y="0" font-family="Liberation Sans" font-size="8.5" fill="#231f20" text-anchor="middle" textLength="39.4" lengthAdjust="spacingAndGlyphs">Frequency</text>
<line x1="353.5" y1="164.55" x2="490.3" y2="164.55" stroke="#c8c8c8" stroke-width="0.8"/>
<line x1="353.5" y1="136.20" x2="423.6" y2="136.20" stroke="#c8c8c8" stroke-width="0.8"/>
<rect x="359.27" y="120.47" width="8" height="72.43" fill="#7a7a7a" stroke="#3a3a3a" stroke-width="0.7"/>
<rect x="378.81" y="177.31" width="8" height="15.59" fill="#7a7a7a" stroke="#3a3a3a" stroke-width="0.7"/>
<rect x="398.36" y="188.36" width="8" height="4.54" fill="#7a7a7a" stroke="#3a3a3a" stroke-width="0.7"/>
<rect x="417.90" y="190.77" width="8" height="2.13" fill="#7a7a7a" stroke="#3a3a3a" stroke-width="0.7"/>
<rect x="437.44" y="192.47" width="8" height="0.43" fill="#7a7a7a" stroke="#3a3a3a" stroke-width="0.7"/>
<rect x="456.99" y="192.90" width="8" height="0.00" fill="#7a7a7a" stroke="#3a3a3a" stroke-width="0.7"/>
<rect x="476.53" y="192.90" width="8" height="0.00" fill="#7a7a7a" stroke="#3a3a3a" stroke-width="0.7"/>
<rect x="353.5" y="107.8" width="136.80" height="85.10" fill="none" stroke="#2a2a2a" stroke-width="1"/>
<polyline points="363.27,119.05 382.81,169.94 402.36,188.93 421.90,192.05 441.44,192.76 460.99,192.90 480.53,192.90" fill="none" stroke="#e02a3a" stroke-width="1.1"/>
<rect x="361.27" y="117.05" width="4" height="4" fill="#e02a3a"/>
<rect x="380.81" y="167.94" width="4" height="4" fill="#e02a3a"/>
<rect x="400.36" y="186.93" width="4" height="4" fill="#e02a3a"/>
<rect x="419.90" y="190.05" width="4" height="4" fill="#e02a3a"/>
<rect x="439.44" y="190.76" width="4" height="4" fill="#e02a3a"/>
<rect x="458.99" y="190.90" width="4" height="4" fill="#e02a3a"/>
<rect x="478.53" y="190.90" width="4" height="4" fill="#e02a3a"/>
<line x1="351.2" y1="192.90" x2="353.5" y2="192.90" stroke="#2a2a2a" stroke-width="0.9"/>
<text x="347.4" y="195.8" font-family="Liberation Sans" font-size="8.5" font-weight="400" fill="#231f20" stroke="#231f20" stroke-width="0.3" text-anchor="end" >0</text>
<line x1="351.2" y1="164.55" x2="353.5" y2="164.55" stroke="#2a2a2a" stroke-width="0.9"/>
<text x="347.4" y="167.45000000000002" font-family="Liberation Sans" font-size="8.5" font-weight="400" fill="#231f20" stroke="#231f20" stroke-width="0.3" text-anchor="end" >20</text>
<line x1="351.2" y1="136.20" x2="353.5" y2="136.20" stroke="#2a2a2a" stroke-width="0.9"/>
<text x="347.4" y="139.1" font-family="Liberation Sans" font-size="8.5" font-weight="400" fill="#231f20" stroke="#231f20" stroke-width="0.3" text-anchor="end" >40</text>
<line x1="351.2" y1="107.85" x2="353.5" y2="107.85" stroke="#2a2a2a" stroke-width="0.9"/>
<text x="347.4" y="114.8" font-family="Liberation Sans" font-size="8.5" font-weight="400" fill="#231f20" stroke="#231f20" stroke-width="0.3" text-anchor="end" >60</text>
<line x1="353.50" y1="192.9" x2="353.50" y2="194.70000000000002" stroke="#2a2a2a" stroke-width="0.9"/>
<line x1="373.04" y1="192.9" x2="373.04" y2="194.70000000000002" stroke="#2a2a2a" stroke-width="0.9"/>
<line x1="392.59" y1="192.9" x2="392.59" y2="194.70000000000002" stroke="#2a2a2a" stroke-width="0.9"/>
<line x1="412.13" y1="192.9" x2="412.13" y2="194.70000000000002" stroke="#2a2a2a" stroke-width="0.9"/>
<line x1="431.67" y1="192.9" x2="431.67" y2="194.70000000000002" stroke="#2a2a2a" stroke-width="0.9"/>
<line x1="451.21" y1="192.9" x2="451.21" y2="194.70000000000002" stroke="#2a2a2a" stroke-width="0.9"/>
<line x1="470.76" y1="192.9" x2="470.76" y2="194.70000000000002" stroke="#2a2a2a" stroke-width="0.9"/>
<line x1="490.30" y1="192.9" x2="490.30" y2="194.70000000000002" stroke="#2a2a2a" stroke-width="0.9"/>
<text x="362.97" y="206.20000000000002" font-family="Liberation Sans" font-size="8.5" font-weight="400" fill="#231f20" stroke="#231f20" stroke-width="0.3" text-anchor="middle" >1</text>
<text x="382.51" y="206.20000000000002" font-family="Liberation Sans" font-size="8.5" font-weight="400" fill="#231f20" stroke="#231f20" stroke-width="0.3" text-anchor="middle" >2</text>
<text x="402.06" y="206.20000000000002" font-family="Liberation Sans" font-size="8.5" font-weight="400" fill="#231f20" stroke="#231f20" stroke-width="0.3" text-anchor="middle" >3</text>
<text x="421.6" y="206.20000000000002" font-family="Liberation Sans" font-size="8.5" font-weight="400" fill="#231f20" stroke="#231f20" stroke-width="0.3" text-anchor="middle" >4</text>
<text x="441.14" y="206.20000000000002" font-family="Liberation Sans" font-size="8.5" font-weight="400" fill="#231f20" stroke="#231f20" stroke-width="0.3" text-anchor="middle" >5</text>
<text x="460.69" y="206.20000000000002" font-family="Liberation Sans" font-size="8.5" font-weight="400" fill="#231f20" stroke="#231f20" stroke-width="0.3" text-anchor="middle" >6</text>
<text x="480.23" y="206.20000000000002" font-family="Liberation Sans" font-size="8.5" font-weight="400" fill="#231f20" stroke="#231f20" stroke-width="0.3" text-anchor="middle" >7</text>
<text x="490.6" y="215.6" font-family="Liberation Sans" font-size="8.5" fill="#231f20" text-anchor="end" textLength="52.5" lengthAdjust="spacingAndGlyphs"><tspan font-style="italic">k</tspan>, times found</text>
<rect x="432.6" y="118.8" width="9.2" height="2.8" fill="#6a6a6a" stroke="#3a3a3a" stroke-width="0.6"/>
<text x="445.90000000000003" y="122.5" font-family="Liberation Sans" font-size="8.5" font-weight="400" fill="#231f20" stroke="#231f20" stroke-width="0.3" text-anchor="start" textLength="34.8" lengthAdjust="spacingAndGlyphs" >Observed</text>
<line x1="432.6" y1="136.1" x2="441.8" y2="136.1" stroke="#e02a3a" stroke-width="1.1"/>
<rect x="435.70000000000005" y="134.6" width="3" height="3" fill="#e02a3a"/>
<text x="445.90000000000003" y="138.7" font-family="Liberation Sans" font-size="8.5" font-weight="400" fill="#231f20" stroke="#231f20" stroke-width="0.3" text-anchor="start" textLength="34.5" lengthAdjust="spacingAndGlyphs" >Expected</text>
<text transform="translate(331.5,127) rotate(-90)" x="0" y="0" font-family="Liberation Sans" font-size="8.5" fill="#231f20" text-anchor="middle" textLength="39.4" lengthAdjust="spacingAndGlyphs">Frequency</text>
<text x="1.3" y="243.9" font-family="Liberation Sans" font-size="16.5" font-weight="700" fill="#000" stroke="#000" stroke-width="0.35" text-anchor="start" textLength="11.8" lengthAdjust="spacingAndGlyphs" >C</text>
<text x="20.8" y="240.7" font-family="Liberation Sans" font-size="9.9" font-weight="400" fill="#231f20" stroke="#231f20" stroke-width="0.3" text-anchor="start" textLength="104.4" lengthAdjust="spacingAndGlyphs" >32D monoclonal cultures</text>
<text x="20.8" y="252.7" font-family="Liberation Sans" font-size="9.9" font-weight="400" fill="#231f20" stroke="#231f20" stroke-width="0.3" text-anchor="start" textLength="75" lengthAdjust="spacingAndGlyphs" ># retroviral inserts</text>
<text x="20.8" y="264.7" font-family="Liberation Sans" font-size="9.9" font-weight="400" fill="#d9585f" stroke="#d9585f" stroke-width="0.3" text-anchor="start" textLength="94.7" lengthAdjust="spacingAndGlyphs" >Crude PCR sequencing</text>
<text x="20.8" y="287.8" font-family="Liberation Sans" font-size="9.0" font-weight="400" fill="#231f20" stroke="#231f20" stroke-width="0.3" text-anchor="start" textLength="68.1" lengthAdjust="spacingAndGlyphs" >Monoclone I: DNA</text>
<text x="21.3" y="383.7" font-family="Liberation Sans" font-size="9.0" font-weight="400" fill="#231f20" stroke="#231f20" stroke-width="0.3" text-anchor="start" textLength="69.8" lengthAdjust="spacingAndGlyphs" >Monoclone II: DNA</text>
<polyline points="21.0,324.89 21.5,324.40 22.0,324.89 22.5,326.19 23.0,327.94 23.5,329.70 24.0,331.15 24.5,332.16 25.0,332.75 25.5,333.00 26.0,333.00 26.5,332.77 27.0,332.27 27.5,331.42 28.0,330.13 28.5,328.30 29.0,325.93 29.5,323.13 30.0,320.13 30.5,317.29 31.0,315.02 31.5,313.70 32.0,313.55 32.5,314.56 33.0,316.52 33.5,319.02 34.0,321.57 34.5,323.70 35.0,325.05 35.5,325.42 36.0,324.79 36.5,323.31 37.0,321.32 37.5,319.21 38.0,317.45 38.5,316.42 39.0,316.35 39.5,317.30 40.0,319.11 40.5,321.48 41.0,324.06 41.5,326.53 42.0,328.65 42.5,330.31 43.0,331.51 43.5,332.32 44.0,332.82 44.5,333.11 45.0,333.26 45.5,333.34 46.0,333.37 46.5,333.39 47.0,333.40 47.5,333.40 48.0,333.40 48.5,333.40 49.0,333.40 49.5,333.40 50.0,333.40 50.5,333.40 51.0,333.40 51.5,333.40 52.0,333.40 52.5,333.40 53.0,333.40 53.5,333.40 54.0,333.40 54.5,333.40 55.0,333.39 55.5,333.36 56.0,333.29 56.5,333.14 57.0,332.83 57.5,332.29 58.0,331.43 58.5,330.21 59.0,328.74 59.5,327.21 60.0,325.95 60.5,325.26 61.0,325.34 61.5,326.16 62.0,327.51 62.5,329.05 63.0,330.48 63.5,331.63 64.0,332.42 64.5,332.91 65.0,333.18 65.5,333.31 66.0,333.37 66.5,333.39 67.0,333.40 67.5,333.40 68.0,333.40 68.5,333.40 69.0,333.40 69.5,333.40 70.0,333.40 70.5,333.40 71.0,333.40 71.5,333.40 72.0,333.40 72.5,333.40 73.0,333.40 73.5,333.40 74.0,333.40 74.5,333.40 75.0,333.40 75.5,333.40 76.0,333.40 76.5,333.40 77.0,333.39 77.5,333.37 78.0,333.33 78.5,333.24 79.0,333.07 79.5,332.73 80.0,332.12 80.5,331.11 81.0,329.52 81.5,327.20 82.0,324.02 82.5,319.99 83.0,315.29 83.5,310.29 84.0,305.53 84.5,301.65 85.0,299.23 85.5,298.64 86.0,299.99 86.5,303.06 87.0,307.37 87.5,312.29 88.0,317.23 88.5,321.69 89.0,325.39 89.5,328.23 90.0,330.24 90.5,331.58 91.0,332.41 91.5,332.89 92.0,333.15 92.5,333.29 93.0,333.35 93.5,333.38 94.0,333.39 94.5,333.40 95.0,333.40 95.5,333.40 96.0,333.40 96.5,333.40 97.0,333.40 97.5,333.40 98.0,333.40 98.5,333.40 99.0,333.40 99.5,333.40 100.0,333.40 100.5,333.40 101.0,333.40 101.5,333.40 102.0,333.40 102.5,333.40 103.0,333.40 103.5,333.40 104.0,333.40 104.5,333.40 105.0,333.40 105.5,333.39 106.0,333.37 106.5,333.33 107.0,333.24 107.5,333.08 108.0,332.78 108.5,332.29 109.0,331.51 109.5,330.37 110.0,328.85 110.5,326.99 111.0,324.90 111.5,322.81 112.0,320.99 112.5,319.72 113.0,319.16 113.5,319.34 114.0,320.13 114.5,321.22 115.0,322.23 115.5,322.81 116.0,322.74 116.5,321.96 117.0,320.63 117.5,319.09 118.0,317.73 118.5,316.95 119.0,316.99 119.5,317.92 120.0,319.58 120.5,321.66 121.0,323.75 121.5,325.45 122.0,326.40 122.5,326.36 123.0,325.22 123.5,323.02 124.0,319.99 124.5,316.51 125.0,313.11 125.5,310.35 126.0,308.75 126.5,308.61 127.0,309.97 127.5,312.58 128.0,316.00 128.5,319.67 129.0,323.09 129.5,325.85 130.0,327.70 130.5,328.55 131.0,328.43 131.5,327.55 132.0,326.20 132.5,324.78 133.0,323.73 133.5,323.36 134.0,323.81 134.5,324.98 135.0,326.62 135.5,328.39 136.0,330.01 136.5,331.29 137.0,332.20 137.5,332.77 138.0,333.10 138.5,333.27 139.0,333.35 139.5,333.38 140.0,333.39 140.5,333.40 141.0,333.40 141.5,333.40 142.0,333.40 142.5,333.40 143.0,333.40 143.5,333.40 144.0,333.40 144.5,333.40 145.0,333.40 145.5,333.40 146.0,333.40 146.5,333.40 147.0,333.40 147.5,333.40 148.0,333.40 148.5,333.40 149.0,333.40 149.5,333.40 150.0,333.40 150.5,333.40 151.0,333.40 151.5,333.40 152.0,333.40 152.5,333.40 153.0,333.40 153.5,333.40 154.0,333.40 154.5,333.40 155.0,333.40 155.5,333.40 156.0,333.40 156.5,333.40 157.0,333.40 157.5,333.40 158.0,333.40 158.5,333.40 159.0,333.40 159.5,333.40 160.0,333.40 160.5,333.40 161.0,333.40 161.5,333.40 162.0,333.40 162.5,333.40 163.0,333.40 163.5,333.40 164.0,333.39 164.5,333.37 165.0,333.32 165.5,333.22 166.0,332.99 166.5,332.56 167.0,331.82 167.5,330.67 168.0,329.08 168.5,327.13 169.0,325.06 169.5,323.23 170.0,322.02 170.5,321.72 171.0,322.41 171.5,323.91 172.0,325.89 172.5,327.94 173.0,329.77 173.5,331.18 174.0,332.16 174.5,332.76 175.0,333.10 175.5,333.27 176.0,333.34 176.5,333.37 177.0,333.38 177.5,333.36 178.0,333.34 178.5,333.29 179.0,333.21 179.5,333.08 180.0,332.88 180.5,332.57 181.0,332.13 181.5,331.49 182.0,330.63 182.5,329.48 183.0,328.00 183.5,326.17 184.0,323.99 184.5,321.48 185.0,318.72 185.5,315.81 186.0,312.91 186.5,310.18 187.0,307.81 187.5,305.97 188.0,304.80 188.5,304.40 189.0,304.80 189.5,305.97 190.0,307.81 190.5,310.18 191.0,312.91 191.5,315.81 192.0,318.72 192.5,321.48 193.0,323.99 193.5,326.17 194.0,328.00 194.5,329.48 195.0,330.63 195.5,331.49 196.0,332.13 196.5,332.57 197.0,332.88 197.5,333.08 198.0,333.21 198.5,333.29 199.0,333.34 199.5,333.37 200.0,333.38 200.5,333.39 201.0,333.40 201.5,333.40 202.0,333.40 202.5,333.40 203.0,333.40 203.5,333.40 204.0,333.40 204.5,333.40 205.0,333.40 205.5,333.40 206.0,333.39 206.5,333.38 207.0,333.36 207.5,333.33 208.0,333.26 208.5,333.14 209.0,332.94 209.5,332.61 210.0,332.10 210.5,331.34 211.0,330.24 211.5,328.74 212.0,326.78 212.5,324.34 213.0,321.44 213.5,318.19 214.0,314.76 214.5,311.38 215.0,308.34 215.5,305.91 216.0,304.34 216.5,303.80 217.0,304.34 217.5,305.91 218.0,308.34 218.5,311.38 219.0,314.76 219.5,318.19 220.0,321.44 220.5,324.34 221.0,326.78" fill="none" stroke="#62b070" stroke-width="0.9" stroke-linejoin="round"/>
<polyline points="21.0,328.28 21.5,327.35 22.0,327.00 22.5,327.35 23.0,328.28 23.5,329.52 24.0,330.77 24.5,331.80 25.0,332.53 25.5,332.98 26.0,333.22 26.5,333.33 27.0,333.38 27.5,333.39 28.0,333.40 28.5,333.40 29.0,333.40 29.5,333.40 30.0,333.40 30.5,333.40 31.0,333.40 31.5,333.40 32.0,333.40 32.5,333.40 33.0,333.40 33.5,333.40 34.0,333.40 34.5,333.40 35.0,333.40 35.5,333.40 36.0,333.40 36.5,333.40 37.0,333.40 37.5,333.40 38.0,333.39 38.5,333.37 39.0,333.34 39.5,333.26 40.0,333.10 40.5,332.80 41.0,332.29 41.5,331.46 42.0,330.22 42.5,328.51 43.0,326.32 43.5,323.79 44.0,321.14 44.5,318.70 45.0,316.85 45.5,315.89 46.0,316.00 46.5,317.15 47.0,319.15 47.5,321.66 48.0,324.31 48.5,326.79 49.0,328.89 49.5,330.51 50.0,331.66 50.5,332.41 51.0,332.87 51.5,333.14 52.0,333.28 52.5,333.35 53.0,333.38 53.5,333.39 54.0,333.40 54.5,333.40 55.0,333.40 55.5,333.40 56.0,333.40 56.5,333.40 57.0,333.40 57.5,333.40 58.0,333.40 58.5,333.40 59.0,333.40 59.5,333.40 60.0,333.40 60.5,333.40 61.0,333.40 61.5,333.40 62.0,333.40 62.5,333.40 63.0,333.40 63.5,333.40 64.0,333.40 64.5,333.40 65.0,333.40 65.5,333.40 66.0,333.40 66.5,333.40 67.0,333.40 67.5,333.40 68.0,333.40 68.5,333.40 69.0,333.40 69.5,333.40 70.0,333.40 70.5,333.40 71.0,333.40 71.5,333.40 72.0,333.40 72.5,333.40 73.0,333.40 73.5,333.40 74.0,333.40 74.5,333.40 75.0,333.40 75.5,333.40 76.0,333.40 76.5,333.40 77.0,333.40 77.5,333.40 78.0,333.40 78.5,333.40 79.0,333.40 79.5,333.40 80.0,333.40 80.5,333.40 81.0,333.40 81.5,333.40 82.0,333.40 82.5,333.40 83.0,333.40 83.5,333.40 84.0,333.39 84.5,333.37 85.0,333.32 85.5,333.23 86.0,333.04 86.5,332.69 87.0,332.08 87.5,331.10 88.0,329.62 88.5,327.59 89.0,325.00 89.5,321.99 90.0,318.84 90.5,315.94 91.0,313.74 91.5,312.60 92.0,312.73 92.5,314.11 93.0,316.48 93.5,319.46 94.0,322.61 94.5,325.56 95.0,328.04 95.5,329.96 96.0,331.33 96.5,332.23 97.0,332.78 97.5,333.09 98.0,333.25 98.5,333.34 99.0,333.37 99.5,333.39 100.0,333.40 100.5,333.40 101.0,333.40 101.5,333.40 102.0,333.40 102.5,333.40 103.0,333.40 103.5,333.40 104.0,333.40 104.5,333.40 105.0,333.40 105.5,333.40 106.0,333.40 106.5,333.40 107.0,333.40 107.5,333.40 108.0,333.40 108.5,333.40 109.0,333.40 109.5,333.40 110.0,333.40 110.5,333.40 111.0,333.40 111.5,333.40 112.0,333.40 112.5,333.40 113.0,333.40 113.5,333.40 114.0,333.40 114.5,333.40 115.0,333.40 115.5,333.40 116.0,333.40 116.5,333.40 117.0,333.40 117.5,333.40 118.0,333.40 118.5,333.40 119.0,333.40 119.5,333.40 120.0,333.40 120.5,333.40 121.0,333.40 121.5,333.40 122.0,333.40 122.5,333.40 123.0,333.40 123.5,333.40 124.0,333.40 124.5,333.40 125.0,333.40 125.5,333.40 126.0,333.40 126.5,333.40 127.0,333.40 127.5,333.40 128.0,333.40 128.5,333.40 129.0,333.40 129.5,333.40 130.0,333.40 130.5,333.40 131.0,333.40 131.5,333.40 132.0,333.40 132.5,333.40 133.0,333.40 133.5,333.40 134.0,333.40 134.5,333.40 135.0,333.40 135.5,333.40 136.0,333.40 136.5,333.40 137.0,333.40 137.5,333.40 138.0,333.40 138.5,333.40 139.0,333.40 139.5,333.40 140.0,333.40 140.5,333.40 141.0,333.40 141.5,333.40 142.0,333.40 142.5,333.40 143.0,333.40 143.5,333.40 144.0,333.40 144.5,333.40 145.0,333.40 145.5,333.40 146.0,333.40 146.5,333.40 147.0,333.40 147.5,333.40 148.0,333.40 148.5,333.40 149.0,333.40 149.5,333.40 150.0,333.40 150.5,333.40 151.0,333.40 151.5,333.40 152.0,333.40 152.5,333.40 153.0,333.40 153.5,333.40 154.0,333.40 154.5,333.40 155.0,333.40 155.5,333.40 156.0,333.40 156.5,333.40 157.0,333.39 157.5,333.37 158.0,333.34 158.5,333.26 159.0,333.11 159.5,332.83 160.0,332.36 160.5,331.61 161.0,330.51 161.5,329.01 162.0,327.13 162.5,324.99 163.0,322.80 163.5,320.85 164.0,319.44 164.5,318.82 165.0,319.09 165.5,320.21 166.0,321.97 166.5,324.10 167.0,326.29 167.5,328.29 168.0,329.95 168.5,331.18 169.0,332.00 169.5,332.44 170.0,332.49 170.5,332.16 171.0,331.41 171.5,330.23 172.0,328.71 172.5,327.07 173.0,325.63 173.5,324.75 174.0,324.67 174.5,325.40 175.0,326.76 175.5,328.40 176.0,329.98 176.5,331.28 177.0,332.21 177.5,332.79 178.0,333.12 178.5,333.28 179.0,333.36 179.5,333.38 180.0,333.40 180.5,333.40 181.0,333.40 181.5,333.40 182.0,333.40 182.5,333.40 183.0,333.40 183.5,333.40 184.0,333.40 184.5,333.40 185.0,333.40 185.5,333.40 186.0,333.40 186.5,333.40 187.0,333.40 187.5,333.40 188.0,333.40 188.5,333.40 189.0,333.40 189.5,333.40 190.0,333.40 190.5,333.40 191.0,333.40 191.5,333.40 192.0,333.40 192.5,333.40 193.0,333.40 193.5,333.40 194.0,333.40 194.5,333.40 195.0,333.40 195.5,333.40 196.0,333.40 196.5,333.40 197.0,333.40 197.5,333.40 198.0,333.40 198.5,333.40 199.0,333.40 199.5,333.40 200.0,333.40 200.5,333.40 201.0,333.39 201.5,333.36 202.0,333.29 202.5,333.12 203.0,332.76 203.5,332.10 204.0,331.00 204.5,329.37 205.0,327.27 205.5,324.94 206.0,322.81 206.5,321.38 207.0,321.02 207.5,321.84 208.0,323.61 208.5,325.88 209.0,328.16 209.5,330.09 210.0,331.50 210.5,332.41 211.0,332.93 211.5,333.20 212.0,333.32 212.5,333.37 213.0,333.39 213.5,333.40 214.0,333.40 214.5,333.40 215.0,333.40 215.5,333.40 216.0,333.40 216.5,333.40 217.0,333.40 217.5,333.40 218.0,333.40 218.5,333.35 219.0,332.52 219.5,327.51 220.0,318.91 220.5,320.29 221.0,329.03" fill="none" stroke="#eca440" stroke-width="0.9" stroke-linejoin="round"/>
<polyline points="21.0,333.40 21.5,333.40 22.0,333.40 22.5,333.40 23.0,333.40 23.5,333.40 24.0,333.40 24.5,333.40 25.0,333.40 25.5,333.40 26.0,333.40 26.5,333.40 27.0,333.40 27.5,333.40 28.0,333.40 28.5,333.40 29.0,333.40 29.5,333.40 30.0,333.40 30.5,333.40 31.0,333.40 31.5,333.40 32.0,333.40 32.5,333.40 33.0,333.40 33.5,333.40 34.0,333.40 34.5,333.40 35.0,333.40 35.5,333.40 36.0,333.40 36.5,333.40 37.0,333.40 37.5,333.40 38.0,333.40 38.5,333.40 39.0,333.40 39.5,333.40 40.0,333.40 40.5,333.40 41.0,333.40 41.5,333.40 42.0,333.40 42.5,333.40 43.0,333.40 43.5,333.40 44.0,333.40 44.5,333.40 45.0,333.40 45.5,333.40 46.0,333.39 46.5,333.38 47.0,333.35 47.5,333.27 48.0,333.12 48.5,332.83 49.0,332.30 49.5,331.40 50.0,330.00 50.5,327.97 51.0,325.25 51.5,321.91 52.0,318.18 52.5,314.45 53.0,311.25 53.5,309.07 54.0,308.30 54.5,309.07 55.0,311.25 55.5,314.45 56.0,318.18 56.5,321.91 57.0,325.25 57.5,327.97 58.0,330.00 58.5,331.40 59.0,332.30 59.5,332.83 60.0,333.12 60.5,333.27 61.0,333.35 61.5,333.38 62.0,333.39 62.5,333.40 63.0,333.40 63.5,333.40 64.0,333.40 64.5,333.40 65.0,333.40 65.5,333.40 66.0,333.40 66.5,333.40 67.0,333.40 67.5,333.40 68.0,333.40 68.5,333.40 69.0,333.40 69.5,333.40 70.0,333.40 70.5,333.40 71.0,333.40 71.5,333.40 72.0,333.40 72.5,333.40 73.0,333.40 73.5,333.40 74.0,333.40 74.5,333.40 75.0,333.40 75.5,333.40 76.0,333.40 76.5,333.40 77.0,333.40 77.5,333.40 78.0,333.40 78.5,333.40 79.0,333.40 79.5,333.40 80.0,333.40 80.5,333.40 81.0,333.40 81.5,333.40 82.0,333.40 82.5,333.40 83.0,333.40 83.5,333.40 84.0,333.40 84.5,333.40 85.0,333.40 85.5,333.40 86.0,333.40 86.5,333.40 87.0,333.40 87.5,333.40 88.0,333.40 88.5,333.40 89.0,333.40 89.5,333.40 90.0,333.40 90.5,333.40 91.0,333.40 91.5,333.40 92.0,333.40 92.5,333.39 93.0,333.38 93.5,333.35 94.0,333.28 94.5,333.12 95.0,332.79 95.5,332.20 96.0,331.22 96.5,329.77 97.0,327.86 97.5,325.64 98.0,323.42 98.5,321.63 99.0,320.66 99.5,320.73 100.0,321.78 100.5,323.49 101.0,325.38 101.5,326.92 102.0,327.68 102.5,327.38 103.0,325.91 103.5,323.34 104.0,319.87 104.5,315.92 105.0,311.99 105.5,308.72 106.0,306.64 106.5,306.13 107.0,307.30 107.5,309.93 108.0,313.58 108.5,317.67 109.0,321.67 109.5,325.19 110.0,328.00 110.5,330.06 111.0,331.46 111.5,332.34 112.0,332.86 112.5,333.14 113.0,333.28 113.5,333.35 114.0,333.38 114.5,333.39 115.0,333.40 115.5,333.40 116.0,333.40 116.5,333.40 117.0,333.40 117.5,333.40 118.0,333.40 118.5,333.40 119.0,333.40 119.5,333.40 120.0,333.40 120.5,333.40 121.0,333.40 121.5,333.40 122.0,333.40 122.5,333.40 123.0,333.40 123.5,333.40 124.0,333.40 124.5,333.40 125.0,333.40 125.5,333.40 126.0,333.40 126.5,333.40 127.0,333.40 127.5,333.40 128.0,333.40 128.5,333.40 129.0,333.40 129.5,333.40 130.0,333.40 130.5,333.40 131.0,333.40 131.5,333.40 132.0,333.40 132.5,333.40 133.0,333.40 133.5,333.40 134.0,333.40 134.5,333.39 135.0,333.38 135.5,333.36 136.0,333.30 136.5,333.17 137.0,332.91 137.5,332.46 138.0,331.72 138.5,330.63 139.0,329.17 139.5,327.41 140.0,325.56 140.5,323.89 141.0,322.72 141.5,322.30 142.0,322.72 142.5,323.89 143.0,325.56 143.5,327.41 144.0,329.17 144.5,330.63 145.0,331.72 145.5,332.46 146.0,332.91 146.5,333.17 147.0,333.30 147.5,333.36 148.0,333.38 148.5,333.39 149.0,333.40 149.5,333.40 150.0,333.40 150.5,333.40 151.0,333.40 151.5,333.40 152.0,333.40 152.5,333.40 153.0,333.40 153.5,333.40 154.0,333.40 154.5,333.40 155.0,333.40 155.5,333.40 156.0,333.40 156.5,333.40 157.0,333.40 157.5,333.40 158.0,333.40 158.5,333.40 159.0,333.40 159.5,333.40 160.0,333.40 160.5,333.40 161.0,333.40 161.5,333.40 162.0,333.40 162.5,333.40 163.0,333.40 163.5,333.40 164.0,333.40 164.5,333.40 165.0,333.40 165.5,333.40 166.0,333.40 166.5,333.40 167.0,333.40 167.5,333.40 168.0,333.40 168.5,333.40 169.0,333.40 169.5,333.40 170.0,333.40 170.5,333.40 171.0,333.40 171.5,333.40 172.0,333.40 172.5,333.40 173.0,333.40 173.5,333.40 174.0,333.40 174.5,333.40 175.0,333.40 175.5,333.40 176.0,333.40 176.5,333.40 177.0,333.40 177.5,333.40 178.0,333.40 178.5,333.40 179.0,333.40 179.5,333.40 180.0,333.40 180.5,333.40 181.0,333.40 181.5,333.40 182.0,333.40 182.5,333.40 183.0,333.40 183.5,333.40 184.0,333.40 184.5,333.40 185.0,333.40 185.5,333.40 186.0,333.40 186.5,333.40 187.0,333.40 187.5,333.40 188.0,333.40 188.5,333.40 189.0,333.40 189.5,333.40 190.0,333.40 190.5,333.40 191.0,333.40 191.5,333.39 192.0,333.39 192.5,333.37 193.0,333.33 193.5,333.26 194.0,333.11 194.5,332.84 195.0,332.38 195.5,331.62 196.0,330.47 196.5,328.80 197.0,326.56 197.5,323.73 198.0,320.42 198.5,316.85 199.0,313.37 199.5,310.37 200.0,308.25 200.5,307.33 201.0,307.73 201.5,309.40 202.0,312.08 202.5,315.42 203.0,319.00 203.5,322.45 204.0,325.49 204.5,327.98 205.0,329.87 205.5,331.22 206.0,332.12 206.5,332.68 207.0,333.02 207.5,333.21 208.0,333.31 208.5,333.36 209.0,333.38 209.5,333.39 210.0,333.40 210.5,333.40 211.0,333.40 211.5,333.40 212.0,333.40 212.5,333.40 213.0,333.40 213.5,333.40 214.0,333.40 214.5,333.40 215.0,333.40 215.5,333.40 216.0,333.40 216.5,333.40 217.0,333.40 217.5,333.40 218.0,333.40 218.5,333.40 219.0,333.40 219.5,333.40 220.0,333.40 220.5,333.40 221.0,333.40" fill="none" stroke="#dc4a5c" stroke-width="0.9" stroke-linejoin="round"/>
<polyline points="21.0,333.40 21.5,333.40 22.0,333.40 22.5,333.40 23.0,333.40 23.5,333.40 24.0,333.40 24.5,333.40 25.0,333.40 25.5,333.40 26.0,333.40 26.5,333.40 27.0,333.40 27.5,333.40 28.0,333.40 28.5,333.40 29.0,333.40 29.5,333.40 30.0,333.40 30.5,333.40 31.0,333.40 31.5,333.40 32.0,333.40 32.5,333.40 33.0,333.40 33.5,333.40 34.0,333.40 34.5,333.40 35.0,333.40 35.5,333.40 36.0,333.40 36.5,333.40 37.0,333.40 37.5,333.40 38.0,333.40 38.5,333.40 39.0,333.40 39.5,333.40 40.0,333.40 40.5,333.40 41.0,333.40 41.5,333.40 42.0,333.40 42.5,333.40 43.0,333.40 43.5,333.40 44.0,333.40 44.5,333.40 45.0,333.40 45.5,333.40 46.0,333.40 46.5,333.40 47.0,333.40 47.5,333.40 48.0,333.40 48.5,333.40 49.0,333.40 49.5,333.40 50.0,333.40 50.5,333.40 51.0,333.40 51.5,333.40 52.0,333.40 52.5,333.40 53.0,333.40 53.5,333.40 54.0,333.40 54.5,333.40 55.0,333.40 55.5,333.40 56.0,333.40 56.5,333.40 57.0,333.40 57.5,333.40 58.0,333.40 58.5,333.40 59.0,333.40 59.5,333.40 60.0,333.40 60.5,333.40 61.0,333.39 61.5,333.38 62.0,333.34 62.5,333.27 63.0,333.13 63.5,332.88 64.0,332.43 64.5,331.70 65.0,330.62 65.5,329.12 66.0,327.21 66.5,324.99 67.0,322.67 67.5,320.54 68.0,318.91 68.5,318.08 69.0,318.17 69.5,319.17 70.0,320.91 70.5,323.07 71.0,325.31 71.5,327.32 72.0,328.84 72.5,329.69 73.0,329.73 73.5,328.90 74.0,327.12 74.5,324.44 75.0,320.98 75.5,317.04 76.0,313.08 76.5,309.65 77.0,307.32 77.5,306.50 78.0,307.33 78.5,309.66 79.0,313.09 79.5,317.08 80.0,321.08 80.5,324.67 81.0,327.58 81.5,329.76 82.0,331.26 82.5,332.22 83.0,332.79 83.5,333.10 84.0,333.26 84.5,333.34 85.0,333.38 85.5,333.39 86.0,333.40 86.5,333.40 87.0,333.40 87.5,333.40 88.0,333.40 88.5,333.40 89.0,333.40 89.5,333.40 90.0,333.40 90.5,333.40 91.0,333.40 91.5,333.40 92.0,333.39 92.5,333.38 93.0,333.35 93.5,333.26 94.0,333.08 94.5,332.73 95.0,332.09 95.5,331.07 96.0,329.58 96.5,327.66 97.0,325.50 97.5,323.42 98.0,321.84 98.5,321.12 99.0,321.44 99.5,322.71 100.0,324.64 100.5,326.81 101.0,328.86 101.5,330.53 102.0,331.74 102.5,332.51 103.0,332.97 103.5,333.21 104.0,333.32 104.5,333.37 105.0,333.39 105.5,333.40 106.0,333.40 106.5,333.40 107.0,333.40 107.5,333.40 108.0,333.40 108.5,333.40 109.0,333.40 109.5,333.40 110.0,333.40 110.5,333.40 111.0,333.40 111.5,333.40 112.0,333.40 112.5,333.40 113.0,333.40 113.5,333.40 114.0,333.40 114.5,333.40 115.0,333.40 115.5,333.40 116.0,333.40 116.5,333.40 117.0,333.40 117.5,333.40 118.0,333.40 118.5,333.40 119.0,333.40 119.5,333.40 120.0,333.40 120.5,333.40 121.0,333.40 121.5,333.40 122.0,333.40 122.5,333.40 123.0,333.40 123.5,333.40 124.0,333.40 124.5,333.40 125.0,333.40 125.5,333.40 126.0,333.40 126.5,333.40 127.0,333.40 127.5,333.40 128.0,333.40 128.5,333.40 129.0,333.40 129.5,333.40 130.0,333.40 130.5,333.40 131.0,333.40 131.5,333.40 132.0,333.40 132.5,333.40 133.0,333.40 133.5,333.40 134.0,333.40 134.5,333.40 135.0,333.40 135.5,333.40 136.0,333.40 136.5,333.40 137.0,333.40 137.5,333.40 138.0,333.40 138.5,333.40 139.0,333.40 139.5,333.40 140.0,333.40 140.5,333.40 141.0,333.39 141.5,333.37 142.0,333.34 142.5,333.26 143.0,333.08 143.5,332.75 144.0,332.15 144.5,331.14 145.0,329.56 145.5,327.26 146.0,324.18 146.5,320.40 147.0,316.17 147.5,311.96 148.0,308.34 148.5,305.87 149.0,304.99 149.5,305.86 150.0,308.30 150.5,311.86 151.0,315.96 151.5,319.95 152.0,323.30 152.5,325.65 153.0,326.79 153.5,326.67 154.0,325.35 154.5,323.04 155.0,320.06 155.5,316.84 156.0,313.91 156.5,311.77 157.0,310.82 157.5,311.24 158.0,312.98 158.5,315.71 159.0,319.01 159.5,322.40 160.0,325.50 160.5,328.07 161.0,330.02 161.5,331.39 162.0,332.28 162.5,332.81 163.0,333.11 163.5,333.26 164.0,333.34 164.5,333.38 165.0,333.39 165.5,333.40 166.0,333.40 166.5,333.40 167.0,333.40 167.5,333.40 168.0,333.40 168.5,333.40 169.0,333.40 169.5,333.40 170.0,333.40 170.5,333.40 171.0,333.40 171.5,333.40 172.0,333.39 172.5,333.38 173.0,333.35 173.5,333.30 174.0,333.18 174.5,332.96 175.0,332.58 175.5,331.95 176.0,331.00 176.5,329.66 177.0,327.92 177.5,325.86 178.0,323.66 178.5,321.58 179.0,319.92 179.5,318.96 180.0,318.87 180.5,319.67 181.0,321.21 181.5,323.23 182.0,325.43 182.5,327.53 183.0,329.34 183.5,330.76 184.0,331.79 184.5,332.48 185.0,332.90 185.5,333.15 186.0,333.28 186.5,333.35 187.0,333.38 187.5,333.39 188.0,333.40 188.5,333.40 189.0,333.40 189.5,333.40 190.0,333.40 190.5,333.40 191.0,333.40 191.5,333.40 192.0,333.40 192.5,333.40 193.0,333.40 193.5,333.40 194.0,333.40 194.5,333.40 195.0,333.40 195.5,333.40 196.0,333.40 196.5,333.40 197.0,333.40 197.5,333.40 198.0,333.40 198.5,333.40 199.0,333.40 199.5,333.40 200.0,333.40 200.5,333.40 201.0,333.40 201.5,333.40 202.0,333.40 202.5,333.40 203.0,333.40 203.5,333.38 204.0,333.36 204.5,333.28 205.0,333.12 205.5,332.79 206.0,332.21 206.5,331.28 207.0,329.98 207.5,328.40 208.0,326.76 208.5,325.40 209.0,324.67 209.5,324.75 210.0,325.63 210.5,327.07 211.0,328.73 211.5,330.27 212.0,331.50 212.5,332.35 213.0,332.88 213.5,333.16 214.0,333.30 214.5,333.36 215.0,333.39 215.5,333.40 216.0,333.40 216.5,333.40 217.0,333.40 217.5,333.40 218.0,333.40 218.5,333.40 219.0,333.40 219.5,333.40 220.0,333.40 220.5,333.40 221.0,333.40" fill="none" stroke="#4a56a4" stroke-width="0.9" stroke-linejoin="round"/>
<line x1="21" y1="333.4" x2="221" y2="333.4" stroke="#8484c0" stroke-width="0.8"/>
<text transform="translate(20.3,343.4) scale(1,0.9)" x="0" y="0" font-family="Liberation Mono" font-size="12.3" textLength="198.59" lengthAdjust="spacingAndGlyphs"><tspan font-weight="700" fill="#111" stroke="#111" stroke-width="0.35">N</tspan><tspan font-weight="700" fill="#3aaa4a" stroke="#3aaa4a" stroke-width="0.35">A</tspan><tspan fill="#8c8c8c">A</tspan><tspan fill="#8c8c8c">T</tspan><tspan fill="#8c8c8c">C</tspan><tspan font-weight="700" fill="#111" stroke="#111" stroke-width="0.35">N</tspan><tspan font-weight="700" fill="#3a50b0" stroke="#3a50b0" stroke-width="0.35">G</tspan><tspan fill="#8c8c8c">G</tspan><tspan fill="#8c8c8c">A</tspan><tspan fill="#8c8c8c">T</tspan><tspan font-weight="700" fill="#111" stroke="#111" stroke-width="0.35">S</tspan><tspan font-weight="700" fill="#e02a3a" stroke="#e02a3a" stroke-width="0.35">C</tspan><tspan fill="#8c8c8c">A</tspan><tspan fill="#8c8c8c">A</tspan><tspan fill="#8c8c8c">A</tspan><tspan font-weight="700" fill="#111" stroke="#111" stroke-width="0.35">N</tspan><tspan font-weight="700" fill="#111" stroke="#111" stroke-width="0.35">N</tspan><tspan fill="#8c8c8c">G</tspan><tspan fill="#8c8c8c">G</tspan><tspan fill="#8c8c8c">T</tspan><tspan font-weight="700" fill="#111" stroke="#111" stroke-width="0.35">N</tspan><tspan font-weight="700" fill="#111" stroke="#111" stroke-width="0.35">N</tspan><tspan fill="#8c8c8c">A</tspan><tspan fill="#8c8c8c">A</tspan><tspan fill="#8c8c8c">C</tspan><tspan font-weight="700" fill="#111" stroke="#111" stroke-width="0.35">N</tspan><tspan font-weight="700" fill="#3aaa4a" stroke="#3aaa4a" stroke-width="0.35">A</tspan></text>
<polyline points="21.0,426.81 21.5,425.53 22.0,423.91 22.5,422.19 23.0,420.68 23.5,419.76 24.0,419.67 24.5,420.44 25.0,421.86 25.5,423.57 26.0,425.23 26.5,426.58 27.0,427.55 27.5,428.17 28.0,428.51 28.5,428.68 29.0,428.75 29.5,428.78 30.0,428.79 30.5,428.80 31.0,428.80 31.5,428.79 32.0,428.78 32.5,428.74 33.0,428.67 33.5,428.52 34.0,428.23 34.5,427.73 35.0,426.92 35.5,425.67 36.0,423.93 36.5,421.67 37.0,418.99 37.5,416.13 38.0,413.42 38.5,411.26 39.0,410.01 39.5,409.89 40.0,410.93 40.5,412.93 41.0,415.56 41.5,418.42 42.0,421.16 42.5,423.52 43.0,425.37 43.5,426.71 44.0,427.60 44.5,428.15 45.0,428.47 45.5,428.64 46.0,428.73 46.5,428.77 47.0,428.79 47.5,428.80 48.0,428.80 48.5,428.80 49.0,428.80 49.5,428.80 50.0,428.80 50.5,428.80 51.0,428.80 51.5,428.80 52.0,428.80 52.5,428.80 53.0,428.80 53.5,428.80 54.0,428.80 54.5,428.80 55.0,428.80 55.5,428.79 56.0,428.78 56.5,428.74 57.0,428.66 57.5,428.49 58.0,428.18 58.5,427.68 59.0,426.95 59.5,426.04 60.0,425.06 60.5,424.21 61.0,423.69 61.5,423.64 62.0,424.07 62.5,424.87 63.0,425.84 63.5,426.78 64.0,427.55 64.5,428.10 65.0,428.44 65.5,428.63 66.0,428.73 66.5,428.77 67.0,428.79 67.5,428.80 68.0,428.80 68.5,428.80 69.0,428.80 69.5,428.80 70.0,428.80 70.5,428.80 71.0,428.80 71.5,428.80 72.0,428.80 72.5,428.80 73.0,428.80 73.5,428.80 74.0,428.80 74.5,428.80 75.0,428.80 75.5,428.80 76.0,428.80 76.5,428.79 77.0,428.79 77.5,428.76 78.0,428.71 78.5,428.60 79.0,428.37 79.5,427.94 80.0,427.18 80.5,425.94 81.0,424.06 81.5,421.42 82.0,417.99 82.5,413.93 83.0,409.59 83.5,405.48 84.0,402.21 84.5,400.32 85.0,400.14 85.5,401.71 86.0,404.74 86.5,408.73 87.0,413.07 87.5,417.22 88.0,420.79 88.5,423.60 89.0,425.62 89.5,426.98 90.0,427.82 90.5,428.30 91.0,428.56 91.5,428.69 92.0,428.76 92.5,428.78 93.0,428.79 93.5,428.80 94.0,428.80 94.5,428.80 95.0,428.80 95.5,428.80 96.0,428.80 96.5,428.80 97.0,428.80 97.5,428.80 98.0,428.80 98.5,428.80 99.0,428.80 99.5,428.80 100.0,428.80 100.5,428.80 101.0,428.80 101.5,428.80 102.0,428.80 102.5,428.80 103.0,428.80 103.5,428.80 104.0,428.80 104.5,428.80 105.0,428.79 105.5,428.78 106.0,428.76 106.5,428.71 107.0,428.60 107.5,428.38 108.0,427.99 108.5,427.34 109.0,426.31 109.5,424.82 110.0,422.82 110.5,420.37 111.0,417.62 111.5,414.87 112.0,412.46 112.5,410.75 113.0,409.95 113.5,410.10 114.0,410.99 114.5,412.23 115.0,413.36 115.5,413.95 116.0,413.76 116.5,412.81 117.0,411.36 117.5,409.86 118.0,408.78 118.5,408.54 119.0,409.30 119.5,411.01 120.0,413.34 120.5,415.83 121.0,417.98 121.5,419.32 122.0,419.51 122.5,418.42 123.0,416.09 123.5,412.80 124.0,409.05 124.5,405.44 125.0,402.65 125.5,401.19 126.0,401.39 126.5,403.22 127.0,406.37 127.5,410.32 128.0,414.50 128.5,418.40 129.0,421.70 129.5,424.24 130.0,426.05 130.5,427.25 131.0,427.97 131.5,428.39 132.0,428.61 132.5,428.71 133.0,428.76 133.5,428.79 134.0,428.79 134.5,428.79 135.0,428.78 135.5,428.75 136.0,428.68 136.5,428.52 137.0,428.22 137.5,427.68 138.0,426.81 138.5,425.51 139.0,423.77 139.5,421.68 140.0,419.47 140.5,417.49 141.0,416.10 141.5,415.60 142.0,416.10 142.5,417.49 143.0,419.47 143.5,421.68 144.0,423.77 144.5,425.51 145.0,426.81 145.5,427.68 146.0,428.22 146.5,428.52 147.0,428.68 147.5,428.75 148.0,428.78 148.5,428.79 149.0,428.80 149.5,428.80 150.0,428.80 150.5,428.80 151.0,428.80 151.5,428.80 152.0,428.80 152.5,428.80 153.0,428.80 153.5,428.80 154.0,428.80 154.5,428.80 155.0,428.80 155.5,428.80 156.0,428.80 156.5,428.80 157.0,428.80 157.5,428.80 158.0,428.80 158.5,428.80 159.0,428.80 159.5,428.80 160.0,428.80 160.5,428.80 161.0,428.80 161.5,428.80 162.0,428.80 162.5,428.80 163.0,428.80 163.5,428.80 164.0,428.80 164.5,428.80 165.0,428.80 165.5,428.80 166.0,428.80 166.5,428.80 167.0,428.80 167.5,428.80 168.0,428.80 168.5,428.80 169.0,428.80 169.5,428.80 170.0,428.80 170.5,428.80 171.0,428.80 171.5,428.80 172.0,428.80 172.5,428.79 173.0,428.78 173.5,428.74 174.0,428.67 174.5,428.52 175.0,428.23 175.5,427.72 176.0,426.87 176.5,425.56 177.0,423.68 177.5,421.21 178.0,418.23 178.5,414.97 179.0,411.79 179.5,409.13 180.0,407.39 180.5,406.84 181.0,407.49 181.5,409.10 182.0,411.19 182.5,413.17 183.0,414.47 183.5,414.67 184.0,413.53 184.5,411.10 185.0,407.67 185.5,403.74 186.0,399.90 186.5,396.78 187.0,394.87 187.5,394.43 188.0,395.42 188.5,397.52 189.0,400.18 189.5,402.75 190.0,404.63 190.5,405.39 191.0,404.91 191.5,403.36 192.0,401.17 192.5,398.93 193.0,397.27 193.5,396.70 194.0,397.49 194.5,399.67 195.0,403.00 195.5,407.07 196.0,411.41 196.5,415.58 197.0,419.26 197.5,422.25 198.0,424.54 198.5,426.16 199.0,427.25 199.5,427.94 200.0,428.34 200.5,428.57 201.0,428.69 201.5,428.75 202.0,428.76 202.5,428.75 203.0,428.70 203.5,428.57 204.0,428.31 204.5,427.84 205.0,427.09 205.5,426.01 206.0,424.60 206.5,423.02 207.0,421.50 207.5,420.34 208.0,419.82 208.5,420.05 209.0,420.98 209.5,422.39 210.0,423.98 210.5,425.48 211.0,426.70 211.5,427.58 212.0,428.15 212.5,428.48 213.0,428.66 213.5,428.74 214.0,428.78 214.5,428.79 215.0,428.80 215.5,428.80 216.0,428.80 216.5,428.80 217.0,428.80 217.5,428.80 218.0,428.80 218.5,428.80 219.0,428.80 219.5,428.80 220.0,428.80 220.5,428.80 221.0,428.80" fill="none" stroke="#62b070" stroke-width="0.9" stroke-linejoin="round"/>
<polyline points="21.0,428.80 21.5,428.80 22.0,428.80 22.5,428.80 23.0,428.80 23.5,428.80 24.0,428.80 24.5,428.80 25.0,428.80 25.5,428.80 26.0,428.79 26.5,428.76 27.0,428.70 27.5,428.57 28.0,428.29 28.5,427.77 29.0,426.94 29.5,425.74 30.0,424.23 30.5,422.62 31.0,421.21 31.5,420.35 32.0,420.27 32.5,420.98 33.0,422.31 33.5,423.91 34.0,425.46 34.5,426.73 35.0,427.64 35.5,428.21 36.0,428.53 36.5,428.68 37.0,428.75 37.5,428.78 38.0,428.78 38.5,428.77 39.0,428.73 39.5,428.64 40.0,428.47 40.5,428.15 41.0,427.60 41.5,426.71 42.0,425.37 42.5,423.52 43.0,421.16 43.5,418.42 44.0,415.56 44.5,412.93 45.0,410.93 45.5,409.89 46.0,410.01 46.5,411.26 47.0,413.42 47.5,416.13 48.0,418.99 48.5,421.67 49.0,423.93 49.5,425.67 50.0,426.92 50.5,427.73 51.0,428.23 51.5,428.52 52.0,428.67 52.5,428.74 53.0,428.78 53.5,428.79 54.0,428.80 54.5,428.80 55.0,428.80 55.5,428.80 56.0,428.80 56.5,428.80 57.0,428.80 57.5,428.80 58.0,428.80 58.5,428.80 59.0,428.80 59.5,428.80 60.0,428.80 60.5,428.80 61.0,428.80 61.5,428.80 62.0,428.80 62.5,428.79 63.0,428.77 63.5,428.73 64.0,428.65 64.5,428.50 65.0,428.24 65.5,427.85 66.0,427.31 66.5,426.62 67.0,425.86 67.5,425.12 68.0,424.54 68.5,424.23 69.0,424.26 69.5,424.63 70.0,425.26 70.5,426.01 71.0,426.77 71.5,427.43 72.0,427.94 72.5,428.30 73.0,428.53 73.5,428.67 74.0,428.74 74.5,428.77 75.0,428.79 75.5,428.80 76.0,428.80 76.5,428.80 77.0,428.80 77.5,428.80 78.0,428.80 78.5,428.80 79.0,428.80 79.5,428.80 80.0,428.80 80.5,428.80 81.0,428.80 81.5,428.80 82.0,428.80 82.5,428.80 83.0,428.79 83.5,428.79 84.0,428.76 84.5,428.71 85.0,428.61 85.5,428.40 86.0,428.02 86.5,427.37 87.0,426.33 87.5,424.80 88.0,422.72 88.5,420.12 89.0,417.16 89.5,414.13 90.0,411.44 90.5,409.49 91.0,408.63 91.5,409.00 92.0,410.55 92.5,412.99 93.0,415.94 93.5,418.97 94.0,421.74 94.5,424.04 95.0,425.78 95.5,427.00 96.0,427.80 96.5,428.27 97.0,428.54 97.5,428.68 98.0,428.75 98.5,428.78 99.0,428.79 99.5,428.80 100.0,428.80 100.5,428.80 101.0,428.80 101.5,428.80 102.0,428.80 102.5,428.80 103.0,428.80 103.5,428.80 104.0,428.80 104.5,428.80 105.0,428.80 105.5,428.80 106.0,428.80 106.5,428.80 107.0,428.80 107.5,428.80 108.0,428.80 108.5,428.80 109.0,428.80 109.5,428.80 110.0,428.80 110.5,428.80 111.0,428.80 111.5,428.80 112.0,428.80 112.5,428.80 113.0,428.80 113.5,428.80 114.0,428.80 114.5,428.80 115.0,428.80 115.5,428.80 116.0,428.80 116.5,428.80 117.0,428.80 117.5,428.80 118.0,428.80 118.5,428.80 119.0,428.80 119.5,428.80 120.0,428.80 120.5,428.80 121.0,428.80 121.5,428.80 122.0,428.80 122.5,428.80 123.0,428.80 123.5,428.80 124.0,428.80 124.5,428.80 125.0,428.80 125.5,428.80 126.0,428.80 126.5,428.80 127.0,428.80 127.5,428.79 128.0,428.77 128.5,428.72 129.0,428.61 129.5,428.39 130.0,428.01 130.5,427.44 131.0,426.70 131.5,425.90 132.0,425.21 132.5,424.84 133.0,424.88 133.5,425.33 134.0,426.05 134.5,426.85 135.0,427.57 135.5,428.10 136.0,428.44 136.5,428.64 137.0,428.73 137.5,428.78 138.0,428.79 138.5,428.80 139.0,428.80 139.5,428.80 140.0,428.80 140.5,428.80 141.0,428.80 141.5,428.80 142.0,428.80 142.5,428.80 143.0,428.80 143.5,428.80 144.0,428.80 144.5,428.80 145.0,428.80 145.5,428.80 146.0,428.80 146.5,428.80 147.0,428.80 147.5,428.80 148.0,428.80 148.5,428.80 149.0,428.80 149.5,428.80 150.0,428.80 150.5,428.80 151.0,428.80 151.5,428.80 152.0,428.80 152.5,428.80 153.0,428.80 153.5,428.80 154.0,428.80 154.5,428.80 155.0,428.80 155.5,428.80 156.0,428.80 156.5,428.80 157.0,428.80 157.5,428.79 158.0,428.77 158.5,428.74 159.0,428.66 159.5,428.51 160.0,428.23 160.5,427.74 161.0,426.96 161.5,425.78 162.0,424.16 162.5,422.09 163.0,419.68 163.5,417.16 164.0,414.85 164.5,413.09 165.0,412.18 165.5,412.29 166.0,413.38 166.5,415.28 167.0,417.66 167.5,420.18 168.0,422.53 168.5,424.52 169.0,426.05 169.5,427.14 170.0,427.86 170.5,428.30 171.0,428.55 171.5,428.68 172.0,428.75 172.5,428.78 173.0,428.79 173.5,428.80 174.0,428.80 174.5,428.80 175.0,428.80 175.5,428.80 176.0,428.80 176.5,428.80 177.0,428.80 177.5,428.80 178.0,428.80 178.5,428.80 179.0,428.80 179.5,428.80 180.0,428.80 180.5,428.80 181.0,428.80 181.5,428.80 182.0,428.80 182.5,428.80 183.0,428.80 183.5,428.80 184.0,428.80 184.5,428.80 185.0,428.80 185.5,428.80 186.0,428.80 186.5,428.80 187.0,428.80 187.5,428.80 188.0,428.80 188.5,428.80 189.0,428.80 189.5,428.80 190.0,428.80 190.5,428.80 191.0,428.80 191.5,428.80 192.0,428.80 192.5,428.80 193.0,428.80 193.5,428.80 194.0,428.80 194.5,428.80 195.0,428.80 195.5,428.80 196.0,428.80 196.5,428.80 197.0,428.80 197.5,428.80 198.0,428.80 198.5,428.80 199.0,428.80 199.5,428.80 200.0,428.80 200.5,428.80 201.0,428.80 201.5,428.80 202.0,428.80 202.5,428.80 203.0,428.80 203.5,428.80 204.0,428.80 204.5,428.80 205.0,428.80 205.5,428.80 206.0,428.80 206.5,428.80 207.0,428.80 207.5,428.80 208.0,428.80 208.5,428.80 209.0,428.80 209.5,428.80 210.0,428.80 210.5,428.80 211.0,428.80 211.5,428.80 212.0,428.80 212.5,428.80 213.0,428.80 213.5,428.80 214.0,428.80 214.5,428.80 215.0,428.80 215.5,428.80 216.0,428.80 216.5,428.80 217.0,428.80 217.5,428.80 218.0,428.80 218.5,428.80 219.0,428.80 219.5,428.80 220.0,428.80 220.5,428.80 221.0,428.80" fill="none" stroke="#eca440" stroke-width="0.9" stroke-linejoin="round"/>
<polyline points="21.0,428.80 21.5,428.80 22.0,428.80 22.5,428.80 23.0,428.80 23.5,428.80 24.0,428.80 24.5,428.80 25.0,428.80 25.5,428.80 26.0,428.80 26.5,428.80 27.0,428.80 27.5,428.80 28.0,428.80 28.5,428.80 29.0,428.80 29.5,428.80 30.0,428.80 30.5,428.80 31.0,428.80 31.5,428.80 32.0,428.80 32.5,428.80 33.0,428.80 33.5,428.80 34.0,428.80 34.5,428.80 35.0,428.80 35.5,428.80 36.0,428.80 36.5,428.80 37.0,428.80 37.5,428.80 38.0,428.80 38.5,428.80 39.0,428.80 39.5,428.80 40.0,428.80 40.5,428.80 41.0,428.80 41.5,428.80 42.0,428.80 42.5,428.80 43.0,428.80 43.5,428.80 44.0,428.80 44.5,428.80 45.0,428.80 45.5,428.80 46.0,428.79 46.5,428.77 47.0,428.73 47.5,428.64 48.0,428.46 48.5,428.11 49.0,427.51 49.5,426.52 50.0,425.02 50.5,422.90 51.0,420.17 51.5,416.93 52.0,413.46 52.5,410.18 53.0,407.57 53.5,406.06 54.0,405.91 54.5,407.17 55.0,409.59 55.5,412.77 56.0,416.24 56.5,419.55 57.0,422.41 57.5,424.65 58.0,426.26 58.5,427.35 59.0,428.02 59.5,428.40 60.0,428.61 60.5,428.72 61.0,428.76 61.5,428.79 62.0,428.79 62.5,428.80 63.0,428.80 63.5,428.80 64.0,428.80 64.5,428.80 65.0,428.80 65.5,428.80 66.0,428.80 66.5,428.80 67.0,428.80 67.5,428.80 68.0,428.80 68.5,428.80 69.0,428.80 69.5,428.80 70.0,428.80 70.5,428.80 71.0,428.80 71.5,428.80 72.0,428.80 72.5,428.80 73.0,428.80 73.5,428.80 74.0,428.80 74.5,428.80 75.0,428.80 75.5,428.80 76.0,428.80 76.5,428.80 77.0,428.80 77.5,428.80 78.0,428.80 78.5,428.80 79.0,428.80 79.5,428.80 80.0,428.80 80.5,428.80 81.0,428.80 81.5,428.80 82.0,428.80 82.5,428.80 83.0,428.80 83.5,428.80 84.0,428.80 84.5,428.80 85.0,428.80 85.5,428.80 86.0,428.80 86.5,428.80 87.0,428.80 87.5,428.80 88.0,428.80 88.5,428.80 89.0,428.80 89.5,428.80 90.0,428.80 90.5,428.80 91.0,428.80 91.5,428.80 92.0,428.80 92.5,428.79 93.0,428.76 93.5,428.70 94.0,428.58 94.5,428.32 95.0,427.85 95.5,427.06 96.0,425.83 96.5,424.12 97.0,421.98 97.5,419.58 98.0,417.27 98.5,415.45 99.0,414.48 99.5,414.59 100.0,415.72 100.5,417.63 101.0,419.90 101.5,422.08 102.0,423.80 102.5,424.79 103.0,424.91 103.5,424.09 104.0,422.34 104.5,419.75 105.0,416.54 105.5,413.03 106.0,409.68 106.5,407.01 107.0,405.46 107.5,405.32 108.0,406.60 108.5,409.09 109.0,412.36 109.5,415.91 110.0,419.31 110.5,422.24 111.0,424.54 111.5,426.20 112.0,427.31 112.5,428.00 113.0,428.39 113.5,428.61 114.0,428.71 114.5,428.76 115.0,428.79 115.5,428.79 116.0,428.80 116.5,428.80 117.0,428.80 117.5,428.80 118.0,428.80 118.5,428.80 119.0,428.80 119.5,428.80 120.0,428.80 120.5,428.80 121.0,428.80 121.5,428.80 122.0,428.80 122.5,428.80 123.0,428.80 123.5,428.80 124.0,428.80 124.5,428.80 125.0,428.80 125.5,428.80 126.0,428.80 126.5,428.80 127.0,428.80 127.5,428.80 128.0,428.80 128.5,428.79 129.0,428.78 129.5,428.74 130.0,428.64 130.5,428.43 131.0,428.03 131.5,427.38 132.0,426.46 132.5,425.34 133.0,424.24 133.5,423.41 134.0,423.10 134.5,423.41 135.0,424.24 135.5,425.34 136.0,426.46 136.5,427.38 137.0,428.03 137.5,428.43 138.0,428.64 138.5,428.74 139.0,428.78 139.5,428.79 140.0,428.80 140.5,428.80 141.0,428.80 141.5,428.80 142.0,428.80 142.5,428.80 143.0,428.80 143.5,428.80 144.0,428.80 144.5,428.80 145.0,428.80 145.5,428.80 146.0,428.80 146.5,428.80 147.0,428.80 147.5,428.80 148.0,428.80 148.5,428.80 149.0,428.80 149.5,428.80 150.0,428.80 150.5,428.80 151.0,428.80 151.5,428.80 152.0,428.80 152.5,428.80 153.0,428.80 153.5,428.80 154.0,428.80 154.5,428.80 155.0,428.80 155.5,428.80 156.0,428.80 156.5,428.80 157.0,428.80 157.5,428.80 158.0,428.80 158.5,428.80 159.0,428.80 159.5,428.80 160.0,428.80 160.5,428.80 161.0,428.80 161.5,428.80 162.0,428.80 162.5,428.80 163.0,428.80 163.5,428.80 164.0,428.80 164.5,428.80 165.0,428.80 165.5,428.80 166.0,428.80 166.5,428.80 167.0,428.80 167.5,428.80 168.0,428.79 168.5,428.77 169.0,428.72 169.5,428.61 170.0,428.39 170.5,427.98 171.0,427.31 171.5,426.34 172.0,425.14 172.5,423.84 173.0,422.71 173.5,422.02 174.0,421.95 174.5,422.53 175.0,423.58 175.5,424.85 176.0,426.04 176.5,426.96 177.0,427.47 177.5,427.55 178.0,427.21 178.5,426.49 179.0,425.52 179.5,424.49 180.0,423.62 180.5,423.14 181.0,423.20 181.5,423.77 182.0,424.70 182.5,425.77 183.0,426.77 183.5,427.57 184.0,428.12 184.5,428.46 185.0,428.65 185.5,428.74 186.0,428.78 186.5,428.79 187.0,428.80 187.5,428.80 188.0,428.80 188.5,428.80 189.0,428.80 189.5,428.80 190.0,428.80 190.5,428.80 191.0,428.80 191.5,428.79 192.0,428.79 192.5,428.77 193.0,428.73 193.5,428.65 194.0,428.50 194.5,428.23 195.0,427.76 195.5,426.99 196.0,425.81 196.5,424.06 197.0,421.65 197.5,418.52 198.0,414.69 198.5,410.33 199.0,405.73 199.5,401.32 200.0,397.58 200.5,394.97 201.0,393.83 201.5,394.33 202.0,396.38 202.5,399.72 203.0,403.92 203.5,408.49 204.0,412.99 204.5,417.06 205.0,420.49 205.5,423.18 206.0,425.18 206.5,426.58 207.0,427.50 207.5,428.07 208.0,428.41 208.5,428.60 209.0,428.70 209.5,428.76 210.0,428.78 210.5,428.79 211.0,428.80 211.5,428.80 212.0,428.80 212.5,428.80 213.0,428.80 213.5,428.79 214.0,428.77 214.5,428.71 215.0,428.54 215.5,428.15 216.0,427.38 216.5,426.12 217.0,424.43 217.5,422.66 218.0,421.36 218.5,421.02 219.0,421.79 219.5,423.35 220.0,425.14 220.5,426.68 221.0,427.74" fill="none" stroke="#dc4a5c" stroke-width="0.9" stroke-linejoin="round"/>
<polyline points="21.0,428.80 21.5,428.80 22.0,428.80 22.5,428.80 23.0,428.80 23.5,428.80 24.0,428.80 24.5,428.80 25.0,428.80 25.5,428.80 26.0,428.80 26.5,428.80 27.0,428.80 27.5,428.80 28.0,428.80 28.5,428.80 29.0,428.80 29.5,428.80 30.0,428.80 30.5,428.80 31.0,428.80 31.5,428.80 32.0,428.80 32.5,428.80 33.0,428.80 33.5,428.80 34.0,428.80 34.5,428.80 35.0,428.80 35.5,428.80 36.0,428.80 36.5,428.80 37.0,428.80 37.5,428.80 38.0,428.80 38.5,428.80 39.0,428.80 39.5,428.80 40.0,428.80 40.5,428.80 41.0,428.80 41.5,428.80 42.0,428.80 42.5,428.80 43.0,428.80 43.5,428.80 44.0,428.80 44.5,428.80 45.0,428.80 45.5,428.80 46.0,428.80 46.5,428.80 47.0,428.80 47.5,428.80 48.0,428.80 48.5,428.80 49.0,428.80 49.5,428.80 50.0,428.80 50.5,428.80 51.0,428.80 51.5,428.80 52.0,428.80 52.5,428.80 53.0,428.80 53.5,428.80 54.0,428.80 54.5,428.80 55.0,428.80 55.5,428.80 56.0,428.80 56.5,428.80 57.0,428.80 57.5,428.80 58.0,428.80 58.5,428.80 59.0,428.80 59.5,428.80 60.0,428.80 60.5,428.80 61.0,428.80 61.5,428.80 62.0,428.80 62.5,428.80 63.0,428.80 63.5,428.80 64.0,428.80 64.5,428.80 65.0,428.80 65.5,428.80 66.0,428.80 66.5,428.80 67.0,428.80 67.5,428.80 68.0,428.80 68.5,428.80 69.0,428.79 69.5,428.78 70.0,428.75 70.5,428.69 71.0,428.55 71.5,428.29 72.0,427.82 72.5,427.03 73.0,425.78 73.5,423.98 74.0,421.56 74.5,418.59 75.0,415.27 75.5,411.97 76.0,409.12 76.5,407.19 77.0,406.50 77.5,407.19 78.0,409.12 78.5,411.97 79.0,415.27 79.5,418.59 80.0,421.56 80.5,423.98 81.0,425.78 81.5,427.03 82.0,427.82 82.5,428.29 83.0,428.55 83.5,428.69 84.0,428.75 84.5,428.78 85.0,428.79 85.5,428.80 86.0,428.80 86.5,428.80 87.0,428.80 87.5,428.80 88.0,428.80 88.5,428.80 89.0,428.80 89.5,428.80 90.0,428.80 90.5,428.80 91.0,428.80 91.5,428.80 92.0,428.80 92.5,428.79 93.0,428.78 93.5,428.75 94.0,428.68 94.5,428.53 95.0,428.24 95.5,427.72 96.0,426.87 96.5,425.61 97.0,423.92 97.5,421.90 98.0,419.75 98.5,417.83 99.0,416.48 99.5,415.98 100.0,416.43 100.5,417.70 101.0,419.45 101.5,421.26 102.0,422.73 102.5,423.57 103.0,423.71 103.5,423.27 104.0,422.56 104.5,421.96 105.0,421.78 105.5,422.18 106.0,423.11 106.5,424.35 107.0,425.64 107.5,426.76 108.0,427.61 108.5,428.17 109.0,428.50 109.5,428.67 110.0,428.75 110.5,428.78 111.0,428.79 111.5,428.80 112.0,428.80 112.5,428.80 113.0,428.80 113.5,428.80 114.0,428.80 114.5,428.80 115.0,428.80 115.5,428.80 116.0,428.80 116.5,428.80 117.0,428.80 117.5,428.80 118.0,428.80 118.5,428.80 119.0,428.80 119.5,428.80 120.0,428.80 120.5,428.80 121.0,428.80 121.5,428.80 122.0,428.80 122.5,428.80 123.0,428.80 123.5,428.80 124.0,428.80 124.5,428.80 125.0,428.80 125.5,428.80 126.0,428.80 126.5,428.80 127.0,428.80 127.5,428.80 128.0,428.80 128.5,428.80 129.0,428.80 129.5,428.80 130.0,428.80 130.5,428.80 131.0,428.80 131.5,428.80 132.0,428.80 132.5,428.80 133.0,428.80 133.5,428.80 134.0,428.80 134.5,428.79 135.0,428.78 135.5,428.75 136.0,428.69 136.5,428.55 137.0,428.28 137.5,427.80 138.0,427.02 138.5,425.86 139.0,424.30 139.5,422.43 140.0,420.46 140.5,418.69 141.0,417.44 141.5,416.99 142.0,417.43 142.5,418.64 143.0,420.36 143.5,422.20 144.0,423.82 144.5,424.92 145.0,425.30 145.5,424.84 146.0,423.49 146.5,421.27 147.0,418.29 147.5,414.81 148.0,411.21 148.5,407.99 149.0,405.66 149.5,404.62 150.0,405.06 150.5,406.89 151.0,409.76 151.5,413.18 152.0,416.57 152.5,419.46 153.0,421.46 153.5,422.33 154.0,421.97 154.5,420.40 155.0,417.76 155.5,414.34 156.0,410.61 156.5,407.10 157.0,404.41 157.5,403.02 158.0,403.19 158.5,404.89 159.0,407.83 159.5,411.53 160.0,415.43 160.5,419.08 161.0,422.16 161.5,424.54 162.0,426.23 162.5,427.35 163.0,428.03 163.5,428.41 164.0,428.61 164.5,428.71 165.0,428.73 165.5,428.70 166.0,428.60 166.5,428.40 167.0,428.02 167.5,427.37 168.0,426.33 168.5,424.80 169.0,422.72 169.5,420.12 170.0,417.16 170.5,414.13 171.0,411.44 171.5,409.49 172.0,408.63 172.5,409.00 173.0,410.55 173.5,412.99 174.0,415.94 174.5,418.97 175.0,421.74 175.5,424.04 176.0,425.78 176.5,427.00 177.0,427.80 177.5,428.27 178.0,428.54 178.5,428.68 179.0,428.75 179.5,428.78 180.0,428.79 180.5,428.80 181.0,428.80 181.5,428.80 182.0,428.80 182.5,428.80 183.0,428.80 183.5,428.80 184.0,428.80 184.5,428.80 185.0,428.80 185.5,428.80 186.0,428.80 186.5,428.80 187.0,428.80 187.5,428.80 188.0,428.80 188.5,428.80 189.0,428.80 189.5,428.80 190.0,428.80 190.5,428.80 191.0,428.80 191.5,428.80 192.0,428.80 192.5,428.80 193.0,428.80 193.5,428.80 194.0,428.80 194.5,428.80 195.0,428.80 195.5,428.80 196.0,428.80 196.5,428.80 197.0,428.80 197.5,428.80 198.0,428.80 198.5,428.80 199.0,428.80 199.5,428.80 200.0,428.80 200.5,428.80 201.0,428.80 201.5,428.80 202.0,428.80 202.5,428.80 203.0,428.80 203.5,428.80 204.0,428.80 204.5,428.80 205.0,428.80 205.5,428.80 206.0,428.80 206.5,428.80 207.0,428.80 207.5,428.80 208.0,428.80 208.5,428.80 209.0,428.80 209.5,428.80 210.0,428.79 210.5,428.78 211.0,428.74 211.5,428.64 212.0,428.42 212.5,427.99 213.0,427.24 213.5,426.08 214.0,424.49 214.5,422.61 215.0,420.75 215.5,419.29 216.0,418.62 216.5,418.91 217.0,420.09 217.5,421.84 218.0,423.76 218.5,425.49 219.0,426.83 219.5,427.73 220.0,428.28 220.5,428.57 221.0,428.71" fill="none" stroke="#4a56a4" stroke-width="0.9" stroke-linejoin="round"/>
<line x1="21" y1="428.8" x2="221" y2="428.8" stroke="#8484c0" stroke-width="0.8"/>
<text transform="translate(20.3,439.8) scale(1,0.9)" x="0" y="0" font-family="Liberation Mono" font-size="12.3" textLength="198.59" lengthAdjust="spacingAndGlyphs"><tspan font-weight="700" fill="#111" stroke="#111" stroke-width="0.35">N</tspan><tspan font-weight="700" fill="#111" stroke="#111" stroke-width="0.35">N</tspan><tspan fill="#8c8c8c">A</tspan><tspan fill="#8c8c8c">T</tspan><tspan fill="#8c8c8c">C</tspan><tspan font-weight="700" fill="#111" stroke="#111" stroke-width="0.35">N</tspan><tspan font-weight="700" fill="#111" stroke="#111" stroke-width="0.35">N</tspan><tspan fill="#8c8c8c">G</tspan><tspan fill="#8c8c8c">A</tspan><tspan fill="#8c8c8c">T</tspan><tspan font-weight="700" fill="#111" stroke="#111" stroke-width="0.35">S</tspan><tspan font-weight="700" fill="#111" stroke="#111" stroke-width="0.35">S</tspan><tspan fill="#8c8c8c">A</tspan><tspan fill="#8c8c8c">A</tspan><tspan fill="#8c8c8c">A</tspan><tspan font-weight="700" fill="#111" stroke="#111" stroke-width="0.35">N</tspan><tspan font-weight="700" fill="#111" stroke="#111" stroke-width="0.35">N</tspan><tspan fill="#8c8c8c">G</tspan><tspan fill="#8c8c8c">G</tspan><tspan fill="#8c8c8c">T</tspan><tspan font-weight="700" fill="#111" stroke="#111" stroke-width="0.35">N</tspan><tspan font-weight="700" fill="#111" stroke="#111" stroke-width="0.35">N</tspan><tspan fill="#8c8c8c">A</tspan><tspan fill="#8c8c8c">A</tspan><tspan fill="#8c8c8c">C</tspan><tspan font-weight="700" fill="#111" stroke="#111" stroke-width="0.35">N</tspan><tspan font-weight="700" fill="#111" stroke="#111" stroke-width="0.35">N</tspan></text>
<text x="229.6" y="243.0" font-family="Liberation Sans" font-size="16.5" font-weight="700" fill="#000" stroke="#000" stroke-width="0.35" text-anchor="start" textLength="10.8" lengthAdjust="spacingAndGlyphs" >D</text>
<text x="247.1" y="240.7" font-family="Liberation Sans" font-size="9.9" font-weight="400" fill="#231f20" stroke="#231f20" stroke-width="0.3" text-anchor="start" textLength="104.6" lengthAdjust="spacingAndGlyphs" >32D monoclonal cultures</text>
<text x="246.9" y="252.7" font-family="Liberation Sans" font-size="9.9" font-weight="400" fill="#231f20" stroke="#231f20" stroke-width="0.3" text-anchor="start" textLength="75" lengthAdjust="spacingAndGlyphs" ># retroviral inserts</text>
<text x="246.9" y="264.7" font-family="Liberation Sans" font-size="9.9" font-weight="400" fill="#d9585f" stroke="#d9585f" stroke-width="0.3" text-anchor="start" textLength="90" lengthAdjust="spacingAndGlyphs" >Subclone sequencing</text>
<text x="246.9" y="288.4" font-family="Liberation Sans" font-size="9.0" font-weight="400" fill="#231f20" stroke="#231f20" stroke-width="0.3" text-anchor="start" textLength="24.5" lengthAdjust="spacingAndGlyphs" >I: DNA</text>
<text x="283.2" y="288.4" font-family="Liberation Sans" font-size="9.0" font-weight="400" fill="#231f20" stroke="#231f20" stroke-width="0.3" text-anchor="start" textLength="69.5" lengthAdjust="spacingAndGlyphs" >2 unique / 11 trials</text>
<text x="246.9" y="382.7" font-family="Liberation Sans" font-size="9.0" font-weight="400" fill="#231f20" stroke="#231f20" stroke-width="0.3" text-anchor="start" textLength="27" lengthAdjust="spacingAndGlyphs" >II: DNA</text>
<text x="282.7" y="382.7" font-family="Liberation Sans" font-size="9.0" font-weight="400" fill="#231f20" stroke="#231f20" stroke-width="0.3" text-anchor="start" textLength="70.5" lengthAdjust="spacingAndGlyphs" >9 unique / 58 trials</text>
<text x="395.9" y="243.0" font-family="Liberation Sans" font-size="16.5" font-weight="700" fill="#000" stroke="#000" stroke-width="0.35" text-anchor="start" textLength="11.4" lengthAdjust="spacingAndGlyphs" >E</text>
<text x="413" y="240.7" font-family="Liberation Sans" font-size="9.9" font-weight="400" fill="#231f20" stroke="#231f20" stroke-width="0.3" text-anchor="start" textLength="104.6" lengthAdjust="spacingAndGlyphs" >32D monoclonal cultures</text>
<text x="413" y="252.7" font-family="Liberation Sans" font-size="9.9" font-weight="400" fill="#231f20" stroke="#231f20" stroke-width="0.3" text-anchor="start" textLength="97.5" lengthAdjust="spacingAndGlyphs" >Expression from inserts</text>
<text x="413" y="264.7" font-family="Liberation Sans" font-size="9.9" font-weight="400" fill="#d9585f" stroke="#d9585f" stroke-width="0.3" text-anchor="start" textLength="90" lengthAdjust="spacingAndGlyphs" >Subclone sequencing</text>
<text x="413" y="288.2" font-family="Liberation Sans" font-size="9.0" font-weight="400" fill="#231f20" stroke="#231f20" stroke-width="0.3" text-anchor="start" textLength="24.5" lengthAdjust="spacingAndGlyphs" >I: RNA</text>
<text x="447.9" y="288.2" font-family="Liberation Sans" font-size="9.0" font-weight="400" fill="#231f20" stroke="#231f20" stroke-width="0.3" text-anchor="start" textLength="69.7" lengthAdjust="spacingAndGlyphs" >2 unique / 12 trials</text>
<text x="413.4" y="382.8" font-family="Liberation Sans" font-size="9.0" font-weight="400" fill="#231f20" stroke="#231f20" stroke-width="0.3" text-anchor="start" textLength="23.6" lengthAdjust="spacingAndGlyphs" >II: RNA</text>
<text x="447.5" y="382.8" font-family="Liberation Sans" font-size="9.0" font-weight="400" fill="#231f20" stroke="#231f20" stroke-width="0.3" text-anchor="start" textLength="70.3" lengthAdjust="spacingAndGlyphs" >9 unique / 27 trials</text>
<path d="M265.2,325.3 L265.20,306.90 A18.4,18.4 0 1 1 260.02,342.95 Z" fill="#8ed38c" stroke="#1a2a1a" stroke-width="1.3" stroke-linejoin="round"/>
<path d="M265.2,325.3 L260.02,342.95 A18.4,18.4 0 0 1 265.20,306.90 Z" fill="#3db551" stroke="#1a2a1a" stroke-width="1.3" stroke-linejoin="round"/>
<circle cx="265.2" cy="325.3" r="18.4" fill="none" stroke="#1a2a1a" stroke-width="1.3"/>
<path d="M431.0,325.2 L431.00,307.00 A18.2,18.2 0 1 1 421.90,340.96 Z" fill="#8ed38c" stroke="#1a2a1a" stroke-width="1.3" stroke-linejoin="round"/>
<path d="M431.0,325.2 L421.90,340.96 A18.2,18.2 0 0 1 431.00,307.00 Z" fill="#3db551" stroke="#1a2a1a" stroke-width="1.3" stroke-linejoin="round"/>
<circle cx="431.0" cy="325.2" r="18.2" fill="none" stroke="#1a2a1a" stroke-width="1.3"/>
<path d="M265.3,420.5 L265.30,402.50 A18.0,18.0 0 0 1 282.64,415.68 Z" fill="#f8ee80" stroke="#1a2a1a" stroke-width="1.3" stroke-linejoin="round"/>
<path d="M265.3,420.5 L282.64,415.68 A18.0,18.0 0 0 1 277.68,433.57 Z" fill="#f8a838" stroke="#1a2a1a" stroke-width="1.3" stroke-linejoin="round"/>
<path d="M265.3,420.5 L277.68,433.57 A18.0,18.0 0 0 1 259.55,437.56 Z" fill="#f87850" stroke="#1a2a1a" stroke-width="1.3" stroke-linejoin="round"/>
<path d="M265.3,420.5 L259.55,437.56 A18.0,18.0 0 0 1 250.40,430.60 Z" fill="#e83232" stroke="#1a2a1a" stroke-width="1.3" stroke-linejoin="round"/>
<path d="M265.3,420.5 L250.40,430.60 A18.0,18.0 0 0 1 247.33,421.47 Z" fill="#3456b4" stroke="#1a2a1a" stroke-width="1.3" stroke-linejoin="round"/>
<path d="M265.3,420.5 L247.33,421.47 A18.0,18.0 0 0 1 249.40,412.07 Z" fill="#3678d0" stroke="#1a2a1a" stroke-width="1.3" stroke-linejoin="round"/>
<path d="M265.3,420.5 L249.40,412.07 A18.0,18.0 0 0 1 254.41,406.17 Z" fill="#50b4e8" stroke="#1a2a1a" stroke-width="1.3" stroke-linejoin="round"/>
<path d="M265.3,420.5 L254.41,406.17 A18.0,18.0 0 0 1 259.55,403.44 Z" fill="#505050" stroke="#1a2a1a" stroke-width="1.3" stroke-linejoin="round"/>
<path d="M265.3,420.5 L259.55,403.44 A18.0,18.0 0 0 1 265.30,402.50 Z" fill="#c0c0c0" stroke="#1a2a1a" stroke-width="1.3" stroke-linejoin="round"/>
<circle cx="265.3" cy="420.5" r="18.0" fill="none" stroke="#1a2a1a" stroke-width="1.3"/>
<path d="M431.2,421.2 L431.20,403.10 A18.1,18.1 0 0 1 435.37,403.59 Z" fill="#f8ee80" stroke="#1a2a1a" stroke-width="1.3" stroke-linejoin="round"/>
<path d="M431.2,421.2 L435.37,403.59 A18.1,18.1 0 0 1 449.03,418.06 Z" fill="#f8a838" stroke="#1a2a1a" stroke-width="1.3" stroke-linejoin="round"/>
<path d="M431.2,421.2 L449.03,418.06 A18.1,18.1 0 0 1 444.37,433.62 Z" fill="#f87850" stroke="#1a2a1a" stroke-width="1.3" stroke-linejoin="round"/>
<path d="M431.2,421.2 L444.37,433.62 A18.1,18.1 0 0 1 433.30,439.18 Z" fill="#e83232" stroke="#1a2a1a" stroke-width="1.3" stroke-linejoin="round"/>
<path d="M431.2,421.2 L433.30,439.18 A18.1,18.1 0 0 1 425.01,438.21 Z" fill="#3456b4" stroke="#1a2a1a" stroke-width="1.3" stroke-linejoin="round"/>
<path d="M431.2,421.2 L425.01,438.21 A18.1,18.1 0 0 1 418.03,433.62 Z" fill="#3678d0" stroke="#1a2a1a" stroke-width="1.3" stroke-linejoin="round"/>
<path d="M431.2,421.2 L418.03,433.62 A18.1,18.1 0 0 1 423.08,405.03 Z" fill="#50b4e8" stroke="#1a2a1a" stroke-width="1.3" stroke-linejoin="round"/>
<path d="M431.2,421.2 L423.08,405.03 A18.1,18.1 0 0 1 427.03,403.59 Z" fill="#505050" stroke="#1a2a1a" stroke-width="1.3" stroke-linejoin="round"/>
<path d="M431.2,421.2 L427.03,403.59 A18.1,18.1 0 0 1 431.20,403.10 Z" fill="#c0c0c0" stroke="#1a2a1a" stroke-width="1.3" stroke-linejoin="round"/>
<circle cx="431.2" cy="421.2" r="18.1" fill="none" stroke="#1a2a1a" stroke-width="1.3"/>
<text x="419.9" y="429.0" font-family="Liberation Sans" font-size="17" font-weight="400" fill="#111" stroke="#111" stroke-width="0.3" text-anchor="middle" >*</text>
<rect x="246.7" y="349.0" width="4.6" height="4.6" fill="#8ed38c" stroke="#2a2218" stroke-width="1.35"/>
<text transform="translate(256.5,354.2) scale(1,0.93)" x="0" y="0" font-family="Liberation Mono" font-size="8.2" fill="#6a6a6a" textLength="58.6" lengthAdjust="spacingAndGlyphs">AATGCCGTATTA</text>
<rect x="327.3" y="349.0" width="4.6" height="4.6" fill="#3db551" stroke="#2a2218" stroke-width="1.35"/>
<text transform="translate(337.09999999999997,354.2) scale(1,0.93)" x="0" y="0" font-family="Liberation Mono" font-size="8.2" fill="#6a6a6a" textLength="58.6" lengthAdjust="spacingAndGlyphs">TAAGGCACTGGA</text>
<rect x="246.7" y="448.7" width="4.6" height="4.6" fill="#f8ee80" stroke="#2a2218" stroke-width="1.35"/>
<text transform="translate(256.5,453.9) scale(1,0.93)" x="0" y="0" font-family="Liberation Mono" font-size="8.2" fill="#6a6a6a" textLength="58.6" lengthAdjust="spacingAndGlyphs">TTGTCCCGGGAT</text>
<rect x="246.7" y="458.75" width="4.6" height="4.6" fill="#f8a838" stroke="#2a2218" stroke-width="1.35"/>
<text transform="translate(256.5,463.95) scale(1,0.93)" x="0" y="0" font-family="Liberation Mono" font-size="8.2" fill="#6a6a6a" textLength="58.6" lengthAdjust="spacingAndGlyphs">AGGGGCATGATG</text>
<rect x="246.7" y="468.8" width="4.6" height="4.6" fill="#f87850" stroke="#2a2218" stroke-width="1.35"/>
<text transform="translate(256.5,474.0) scale(1,0.93)" x="0" y="0" font-family="Liberation Mono" font-size="8.2" fill="#6a6a6a" textLength="58.6" lengthAdjust="spacingAndGlyphs">AAGTGGGAGAGT</text>
<rect x="246.7" y="478.84999999999997" width="4.6" height="4.6" fill="#e83232" stroke="#2a2218" stroke-width="1.35"/>
<text transform="translate(256.5,484.04999999999995) scale(1,0.93)" x="0" y="0" font-family="Liberation Mono" font-size="8.2" fill="#6a6a6a" textLength="58.6" lengthAdjust="spacingAndGlyphs">GGATCCGCTTTC</text>
<rect x="246.7" y="488.9" width="4.6" height="4.6" fill="#3456b4" stroke="#2a2218" stroke-width="1.35"/>
<text transform="translate(256.5,494.09999999999997) scale(1,0.93)" x="0" y="0" font-family="Liberation Mono" font-size="8.2" fill="#6a6a6a" textLength="58.6" lengthAdjust="spacingAndGlyphs">ATTAGGTACGAA</text>
<rect x="325.70000000000005" y="448.7" width="4.6" height="4.6" fill="#3678d0" stroke="#2a2218" stroke-width="1.35"/>
<text transform="translate(335.5,453.9) scale(1,0.93)" x="0" y="0" font-family="Liberation Mono" font-size="8.2" fill="#6a6a6a" textLength="58.6" lengthAdjust="spacingAndGlyphs">GAAGCCCAGAGG</text>
<rect x="325.70000000000005" y="458.4" width="4.6" height="4.6" fill="#50b4e8" stroke="#2a2218" stroke-width="1.35"/>
<text transform="translate(335.5,463.59999999999997) scale(1,0.93)" x="0" y="0" font-family="Liberation Mono" font-size="8.2" fill="#6a6a6a" textLength="58.6" lengthAdjust="spacingAndGlyphs">TGGAGCGCGGGG</text>
<rect x="325.70000000000005" y="468.09999999999997" width="4.6" height="4.6" fill="#505050" stroke="#2a2218" stroke-width="1.35"/>
<text transform="translate(335.5,473.29999999999995) scale(1,0.93)" x="0" y="0" font-family="Liberation Mono" font-size="8.2" fill="#6a6a6a" textLength="58.6" lengthAdjust="spacingAndGlyphs">AATCCCGAGGGG</text>
<rect x="325.70000000000005" y="477.8" width="4.6" height="4.6" fill="#c0c0c0" stroke="#2a2218" stroke-width="1.35"/>
<text transform="translate(335.5,483.0) scale(1,0.93)" x="0" y="0" font-family="Liberation Mono" font-size="8.2" fill="#6a6a6a" textLength="58.6" lengthAdjust="spacingAndGlyphs">CTACCCTGAAAC</text>
<text transform="translate(290.40,329.93) scale(1,1.000)" x="0" y="0" font-family="Liberation Sans" font-weight="700" font-size="20" fill="#f09838" stroke="#f09838" stroke-width="0.6" textLength="6.40" lengthAdjust="spacingAndGlyphs">T</text>
<text transform="translate(290.40,343.50) scale(1,0.962)" x="0" y="0" font-family="Liberation Sans" font-weight="700" font-size="20" fill="#3aaa4a" stroke="#3aaa4a" stroke-width="0.6" textLength="6.40" lengthAdjust="spacingAndGlyphs">A</text>
<text transform="translate(299.20,343.50) scale(1,1.948)" x="0" y="0" font-family="Liberation Sans" font-weight="700" font-size="20" fill="#3aaa4a" stroke="#3aaa4a" stroke-width="0.6" textLength="6.40" lengthAdjust="spacingAndGlyphs">A</text>
<text transform="translate(308.00,329.93) scale(1,1.000)" x="0" y="0" font-family="Liberation Sans" font-weight="700" font-size="20" fill="#f09838" stroke="#f09838" stroke-width="0.6" textLength="6.40" lengthAdjust="spacingAndGlyphs">T</text>
<text transform="translate(308.00,343.50) scale(1,0.962)" x="0" y="0" font-family="Liberation Sans" font-weight="700" font-size="20" fill="#3aaa4a" stroke="#3aaa4a" stroke-width="0.6" textLength="6.40" lengthAdjust="spacingAndGlyphs">A</text>
<text transform="translate(316.80,343.50) scale(1,1.948)" x="0" y="0" font-family="Liberation Sans" font-weight="700" font-size="20" fill="#2a44a8" stroke="#2a44a8" stroke-width="0.6" textLength="6.40" lengthAdjust="spacingAndGlyphs">G</text>
<text transform="translate(325.60,329.93) scale(1,1.000)" x="0" y="0" font-family="Liberation Sans" font-weight="700" font-size="20" fill="#2a44a8" stroke="#2a44a8" stroke-width="0.6" textLength="6.40" lengthAdjust="spacingAndGlyphs">G</text>
<text transform="translate(325.60,343.50) scale(1,0.962)" x="0" y="0" font-family="Liberation Sans" font-weight="700" font-size="20" fill="#e0283a" stroke="#e0283a" stroke-width="0.6" textLength="6.40" lengthAdjust="spacingAndGlyphs">C</text>
<text transform="translate(334.40,343.50) scale(1,1.948)" x="0" y="0" font-family="Liberation Sans" font-weight="700" font-size="20" fill="#e0283a" stroke="#e0283a" stroke-width="0.6" textLength="6.40" lengthAdjust="spacingAndGlyphs">C</text>
<text transform="translate(343.20,329.93) scale(1,1.000)" x="0" y="0" font-family="Liberation Sans" font-weight="700" font-size="20" fill="#2a44a8" stroke="#2a44a8" stroke-width="0.6" textLength="6.40" lengthAdjust="spacingAndGlyphs">G</text>
<text transform="translate(343.20,343.50) scale(1,0.962)" x="0" y="0" font-family="Liberation Sans" font-weight="700" font-size="20" fill="#3aaa4a" stroke="#3aaa4a" stroke-width="0.6" textLength="6.40" lengthAdjust="spacingAndGlyphs">A</text>
<text transform="translate(352.00,329.93) scale(1,1.000)" x="0" y="0" font-family="Liberation Sans" font-weight="700" font-size="20" fill="#f09838" stroke="#f09838" stroke-width="0.6" textLength="6.40" lengthAdjust="spacingAndGlyphs">T</text>
<text transform="translate(352.00,343.50) scale(1,0.962)" x="0" y="0" font-family="Liberation Sans" font-weight="700" font-size="20" fill="#e0283a" stroke="#e0283a" stroke-width="0.6" textLength="6.40" lengthAdjust="spacingAndGlyphs">C</text>
<text transform="translate(360.80,329.93) scale(1,1.000)" x="0" y="0" font-family="Liberation Sans" font-weight="700" font-size="20" fill="#f09838" stroke="#f09838" stroke-width="0.6" textLength="6.40" lengthAdjust="spacingAndGlyphs">T</text>
<text transform="translate(360.80,343.50) scale(1,0.962)" x="0" y="0" font-family="Liberation Sans" font-weight="700" font-size="20" fill="#3aaa4a" stroke="#3aaa4a" stroke-width="0.6" textLength="6.40" lengthAdjust="spacingAndGlyphs">A</text>
<text transform="translate(369.60,329.93) scale(1,1.000)" x="0" y="0" font-family="Liberation Sans" font-weight="700" font-size="20" fill="#f09838" stroke="#f09838" stroke-width="0.6" textLength="6.40" lengthAdjust="spacingAndGlyphs">T</text>
<text transform="translate(369.60,343.50) scale(1,0.962)" x="0" y="0" font-family="Liberation Sans" font-weight="700" font-size="20" fill="#2a44a8" stroke="#2a44a8" stroke-width="0.6" textLength="6.40" lengthAdjust="spacingAndGlyphs">G</text>
<text transform="translate(378.40,329.93) scale(1,1.000)" x="0" y="0" font-family="Liberation Sans" font-weight="700" font-size="20" fill="#f09838" stroke="#f09838" stroke-width="0.6" textLength="6.40" lengthAdjust="spacingAndGlyphs">T</text>
<text transform="translate(378.40,343.50) scale(1,0.962)" x="0" y="0" font-family="Liberation Sans" font-weight="700" font-size="20" fill="#2a44a8" stroke="#2a44a8" stroke-width="0.6" textLength="6.40" lengthAdjust="spacingAndGlyphs">G</text>
<text transform="translate(387.20,343.50) scale(1,1.948)" x="0" y="0" font-family="Liberation Sans" font-weight="700" font-size="20" fill="#3aaa4a" stroke="#3aaa4a" stroke-width="0.6" textLength="6.40" lengthAdjust="spacingAndGlyphs">A</text>
<text transform="translate(290.70,424.29) scale(1,0.928)" x="0" y="0" font-family="Liberation Sans" font-weight="700" font-size="20" fill="#3aaa4a" stroke="#3aaa4a" stroke-width="0.6" textLength="6.40" lengthAdjust="spacingAndGlyphs">A</text>
<text transform="translate(290.70,429.33) scale(1,0.366)" x="0" y="0" font-family="Liberation Sans" font-weight="700" font-size="20" fill="#f09838" stroke="#f09838" stroke-width="0.6" textLength="6.40" lengthAdjust="spacingAndGlyphs">T</text>
<text transform="translate(290.70,436.38) scale(1,0.506)" x="0" y="0" font-family="Liberation Sans" font-weight="700" font-size="20" fill="#2a44a8" stroke="#2a44a8" stroke-width="0.6" textLength="6.40" lengthAdjust="spacingAndGlyphs">G</text>
<text transform="translate(290.70,439.40) scale(1,0.225)" x="0" y="0" font-family="Liberation Sans" font-weight="700" font-size="20" fill="#e0283a" stroke="#e0283a" stroke-width="0.6" textLength="6.40" lengthAdjust="spacingAndGlyphs">C</text>
<text transform="translate(299.50,422.28) scale(1,0.788)" x="0" y="0" font-family="Liberation Sans" font-weight="700" font-size="20" fill="#f09838" stroke="#f09838" stroke-width="0.6" textLength="6.40" lengthAdjust="spacingAndGlyphs">T</text>
<text transform="translate(299.50,430.34) scale(1,0.577)" x="0" y="0" font-family="Liberation Sans" font-weight="700" font-size="20" fill="#2a44a8" stroke="#2a44a8" stroke-width="0.6" textLength="6.40" lengthAdjust="spacingAndGlyphs">G</text>
<text transform="translate(299.50,439.40) scale(1,0.647)" x="0" y="0" font-family="Liberation Sans" font-weight="700" font-size="20" fill="#3aaa4a" stroke="#3aaa4a" stroke-width="0.6" textLength="6.40" lengthAdjust="spacingAndGlyphs">A</text>
<text transform="translate(308.30,427.31) scale(1,1.139)" x="0" y="0" font-family="Liberation Sans" font-weight="700" font-size="20" fill="#2a44a8" stroke="#2a44a8" stroke-width="0.6" textLength="6.40" lengthAdjust="spacingAndGlyphs">G</text>
<text transform="translate(308.30,434.36) scale(1,0.506)" x="0" y="0" font-family="Liberation Sans" font-weight="700" font-size="20" fill="#3aaa4a" stroke="#3aaa4a" stroke-width="0.6" textLength="6.40" lengthAdjust="spacingAndGlyphs">A</text>
<text transform="translate(308.30,439.40) scale(1,0.366)" x="0" y="0" font-family="Liberation Sans" font-weight="700" font-size="20" fill="#f09838" stroke="#f09838" stroke-width="0.6" textLength="6.40" lengthAdjust="spacingAndGlyphs">T</text>
<text transform="translate(317.10,421.27) scale(1,0.717)" x="0" y="0" font-family="Liberation Sans" font-weight="700" font-size="20" fill="#f09838" stroke="#f09838" stroke-width="0.6" textLength="6.40" lengthAdjust="spacingAndGlyphs">T</text>
<text transform="translate(317.10,426.31) scale(1,0.366)" x="0" y="0" font-family="Liberation Sans" font-weight="700" font-size="20" fill="#2a44a8" stroke="#2a44a8" stroke-width="0.6" textLength="6.40" lengthAdjust="spacingAndGlyphs">G</text>
<text transform="translate(317.10,433.36) scale(1,0.506)" x="0" y="0" font-family="Liberation Sans" font-weight="700" font-size="20" fill="#e0283a" stroke="#e0283a" stroke-width="0.6" textLength="6.40" lengthAdjust="spacingAndGlyphs">C</text>
<text transform="translate(317.10,439.40) scale(1,0.436)" x="0" y="0" font-family="Liberation Sans" font-weight="700" font-size="20" fill="#3aaa4a" stroke="#3aaa4a" stroke-width="0.6" textLength="6.40" lengthAdjust="spacingAndGlyphs">A</text>
<text transform="translate(325.90,431.34) scale(1,1.421)" x="0" y="0" font-family="Liberation Sans" font-weight="700" font-size="20" fill="#e0283a" stroke="#e0283a" stroke-width="0.6" textLength="6.40" lengthAdjust="spacingAndGlyphs">C</text>
<text transform="translate(325.90,439.40) scale(1,0.577)" x="0" y="0" font-family="Liberation Sans" font-weight="700" font-size="20" fill="#2a44a8" stroke="#2a44a8" stroke-width="0.6" textLength="6.40" lengthAdjust="spacingAndGlyphs">G</text>
<text transform="translate(334.70,436.38) scale(1,1.772)" x="0" y="0" font-family="Liberation Sans" font-weight="700" font-size="20" fill="#e0283a" stroke="#e0283a" stroke-width="0.6" textLength="6.40" lengthAdjust="spacingAndGlyphs">C</text>
<text transform="translate(334.70,439.40) scale(1,0.225)" x="0" y="0" font-family="Liberation Sans" font-weight="700" font-size="20" fill="#2a44a8" stroke="#2a44a8" stroke-width="0.6" textLength="6.40" lengthAdjust="spacingAndGlyphs">G</text>
<text transform="translate(343.50,424.29) scale(1,0.928)" x="0" y="0" font-family="Liberation Sans" font-weight="700" font-size="20" fill="#2a44a8" stroke="#2a44a8" stroke-width="0.6" textLength="6.40" lengthAdjust="spacingAndGlyphs">G</text>
<text transform="translate(343.50,430.34) scale(1,0.436)" x="0" y="0" font-family="Liberation Sans" font-weight="700" font-size="20" fill="#f09838" stroke="#f09838" stroke-width="0.6" textLength="6.40" lengthAdjust="spacingAndGlyphs">T</text>
<text transform="translate(343.50,436.38) scale(1,0.436)" x="0" y="0" font-family="Liberation Sans" font-weight="700" font-size="20" fill="#e0283a" stroke="#e0283a" stroke-width="0.6" textLength="6.40" lengthAdjust="spacingAndGlyphs">C</text>
<text transform="translate(343.50,439.40) scale(1,0.225)" x="0" y="0" font-family="Liberation Sans" font-weight="700" font-size="20" fill="#3aaa4a" stroke="#3aaa4a" stroke-width="0.6" textLength="6.40" lengthAdjust="spacingAndGlyphs">A</text>
<text transform="translate(352.30,425.30) scale(1,0.999)" x="0" y="0" font-family="Liberation Sans" font-weight="700" font-size="20" fill="#3aaa4a" stroke="#3aaa4a" stroke-width="0.6" textLength="6.40" lengthAdjust="spacingAndGlyphs">A</text>
<text transform="translate(352.30,430.34) scale(1,0.366)" x="0" y="0" font-family="Liberation Sans" font-weight="700" font-size="20" fill="#2a44a8" stroke="#2a44a8" stroke-width="0.6" textLength="6.40" lengthAdjust="spacingAndGlyphs">G</text>
<text transform="translate(352.30,436.38) scale(1,0.436)" x="0" y="0" font-family="Liberation Sans" font-weight="700" font-size="20" fill="#e0283a" stroke="#e0283a" stroke-width="0.6" textLength="6.40" lengthAdjust="spacingAndGlyphs">C</text>
<text transform="translate(352.30,439.40) scale(1,0.225)" x="0" y="0" font-family="Liberation Sans" font-weight="700" font-size="20" fill="#f09838" stroke="#f09838" stroke-width="0.6" textLength="6.40" lengthAdjust="spacingAndGlyphs">T</text>
<text transform="translate(361.10,430.34) scale(1,1.350)" x="0" y="0" font-family="Liberation Sans" font-weight="700" font-size="20" fill="#2a44a8" stroke="#2a44a8" stroke-width="0.6" textLength="6.40" lengthAdjust="spacingAndGlyphs">G</text>
<text transform="translate(361.10,436.38) scale(1,0.436)" x="0" y="0" font-family="Liberation Sans" font-weight="700" font-size="20" fill="#e0283a" stroke="#e0283a" stroke-width="0.6" textLength="6.40" lengthAdjust="spacingAndGlyphs">C</text>
<text transform="translate(361.10,439.40) scale(1,0.225)" x="0" y="0" font-family="Liberation Sans" font-weight="700" font-size="20" fill="#3aaa4a" stroke="#3aaa4a" stroke-width="0.6" textLength="6.40" lengthAdjust="spacingAndGlyphs">A</text>
<text transform="translate(369.90,422.28) scale(1,0.788)" x="0" y="0" font-family="Liberation Sans" font-weight="700" font-size="20" fill="#2a44a8" stroke="#2a44a8" stroke-width="0.6" textLength="6.40" lengthAdjust="spacingAndGlyphs">G</text>
<text transform="translate(369.90,436.38) scale(1,0.999)" x="0" y="0" font-family="Liberation Sans" font-weight="700" font-size="20" fill="#3aaa4a" stroke="#3aaa4a" stroke-width="0.6" textLength="6.40" lengthAdjust="spacingAndGlyphs">A</text>
<text transform="translate(369.90,439.40) scale(1,0.225)" x="0" y="0" font-family="Liberation Sans" font-weight="700" font-size="20" fill="#f09838" stroke="#f09838" stroke-width="0.6" textLength="6.40" lengthAdjust="spacingAndGlyphs">T</text>
<text transform="translate(378.70,422.28) scale(1,0.788)" x="0" y="0" font-family="Liberation Sans" font-weight="700" font-size="20" fill="#2a44a8" stroke="#2a44a8" stroke-width="0.6" textLength="6.40" lengthAdjust="spacingAndGlyphs">G</text>
<text transform="translate(378.70,433.36) scale(1,0.788)" x="0" y="0" font-family="Liberation Sans" font-weight="700" font-size="20" fill="#3aaa4a" stroke="#3aaa4a" stroke-width="0.6" textLength="6.40" lengthAdjust="spacingAndGlyphs">A</text>
<text transform="translate(378.70,439.40) scale(1,0.436)" x="0" y="0" font-family="Liberation Sans" font-weight="700" font-size="20" fill="#f09838" stroke="#f09838" stroke-width="0.6" textLength="6.40" lengthAdjust="spacingAndGlyphs">T</text>
<text transform="translate(387.50,423.29) scale(1,0.858)" x="0" y="0" font-family="Liberation Sans" font-weight="700" font-size="20" fill="#2a44a8" stroke="#2a44a8" stroke-width="0.6" textLength="6.40" lengthAdjust="spacingAndGlyphs">G</text>
<text transform="translate(387.50,432.35) scale(1,0.647)" x="0" y="0" font-family="Liberation Sans" font-weight="700" font-size="20" fill="#f09838" stroke="#f09838" stroke-width="0.6" textLength="6.40" lengthAdjust="spacingAndGlyphs">T</text>
<text transform="translate(387.50,437.39) scale(1,0.366)" x="0" y="0" font-family="Liberation Sans" font-weight="700" font-size="20" fill="#e0283a" stroke="#e0283a" stroke-width="0.6" textLength="6.40" lengthAdjust="spacingAndGlyphs">C</text>
<text transform="translate(387.50,439.40) scale(1,0.155)" x="0" y="0" font-family="Liberation Sans" font-weight="700" font-size="20" fill="#3aaa4a" stroke="#3aaa4a" stroke-width="0.6" textLength="6.40" lengthAdjust="spacingAndGlyphs">A</text>
</svg>
</body></html>
